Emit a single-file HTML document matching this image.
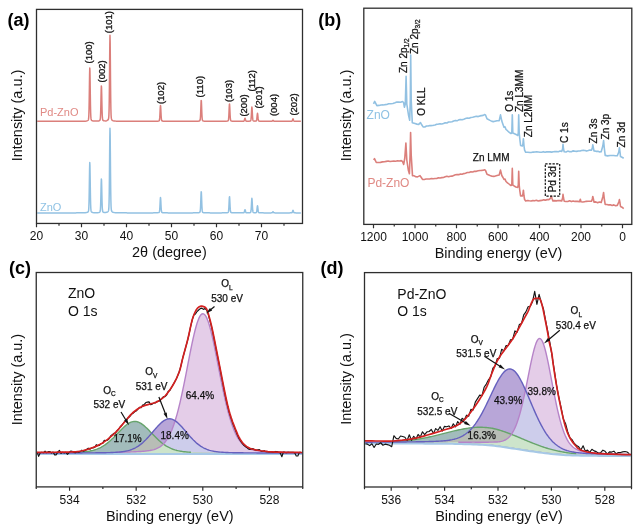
<!DOCTYPE html><html><head><meta charset="utf-8"><title>Figure</title><style>html,body{margin:0;padding:0;background:#fff;}body{width:640px;height:528px;overflow:hidden;}svg{display:block;}</style></head><body><svg width="640" height="528" viewBox="0 0 640 528" font-family='"Liberation Sans", Arial, sans-serif'><rect width="640" height="528" fill="#fff"/><path d="M37.2 121.3 L38.4 121.3 L39.6 121.3 L40.8 121.3 L42 121.3 L43.2 121.3 L44.4 121.3 L45.6 121.3 L46.8 121.3 L48 121.3 L49.2 121.3 L50.4 121.3 L51.6 121.3 L52.8 121.29 L54 121.29 L55.2 121.29 L56.4 121.29 L57.6 121.29 L58.8 121.29 L60 121.29 L61.2 121.29 L62.4 121.29 L63.6 121.29 L64.8 121.29 L66 121.29 L67.2 121.29 L68.4 121.29 L69.6 121.29 L70.8 121.28 L72 121.28 L73.2 121.28 L74.4 121.28 L75.6 121.28 L76.8 121.27 L78 121.27 L79.2 121.26 L80.4 121.25 L81.6 121.24 L82.8 121.22 L84 121.19 L85.2 121.13 L86.4 121 L87.6 120.62 L87.78 120.5 L87.96 120.35 L88.14 120.14 L88.32 119.81 L88.5 119.18 L88.68 117.81 L88.86 114.86 L89.04 109.14 L89.22 99.78 L89.4 87.37 L89.58 74.98 L89.76 68.03 L89.94 70.86 L90.12 81.57 L90.3 94.52 L90.48 105.44 L90.66 112.72 L90.84 116.75 L91.02 118.69 L91.2 119.57 L91.38 120 L91.56 120.25 L91.74 120.43 L91.92 120.55 L92.1 120.65 L92.28 120.73 L92.46 120.8 L92.64 120.85 L92.82 120.89 L94.02 121.05 L95.22 121.1 L96.42 121.11 L97.62 121.06 L98.82 120.89 L99 120.84 L99.18 120.78 L99.36 120.71 L99.54 120.61 L99.72 120.48 L99.9 120.27 L100.08 119.88 L100.26 119.04 L100.44 117.23 L100.62 113.65 L100.8 107.68 L100.98 99.56 L101.16 91.13 L101.34 85.9 L101.52 87.03 L101.7 93.77 L101.88 102.42 L102.06 109.93 L102.24 115.07 L102.42 117.96 L102.6 119.37 L102.78 120 L102.96 120.31 L103.14 120.48 L103.32 120.59 L103.5 120.68 L103.68 120.74 L103.86 120.79 L104.04 120.82 L104.22 120.85 L104.4 120.87 L105.6 120.89 L106.8 120.7 L108 119.97 L108.18 119.73 L108.36 119.38 L108.54 118.81 L108.72 117.72 L108.9 115.32 L109.08 110.18 L109.26 100.38 L109.44 84.68 L109.62 64.41 L109.8 45 L109.98 35.37 L110.16 41.68 L110.34 59.75 L110.52 80.46 L110.7 97.42 L110.88 108.48 L111.06 114.49 L111.24 117.35 L111.42 118.66 L111.6 119.3 L111.78 119.69 L111.96 119.96 L112.14 120.16 L112.32 120.32 L112.5 120.45 L112.68 120.55 L112.86 120.64 L113.04 120.71 L114.24 120.99 L115.44 121.1 L116.64 121.16 L117.84 121.2 L119.04 121.22 L120.24 121.24 L121.44 121.25 L122.64 121.26 L123.84 121.26 L125.04 121.27 L126.24 121.27 L127.44 121.28 L128.64 121.28 L129.84 121.28 L131.04 121.28 L132.24 121.28 L133.44 121.28 L134.64 121.29 L135.84 121.29 L137.04 121.29 L138.24 121.29 L139.44 121.29 L140.64 121.29 L141.84 121.29 L143.04 121.29 L144.24 121.29 L145.44 121.29 L146.64 121.29 L147.84 121.29 L149.04 121.29 L150.24 121.28 L151.44 121.28 L152.64 121.28 L153.84 121.27 L155.04 121.26 L156.24 121.24 L157.44 121.19 L158.64 121.02 L158.82 120.96 L159 120.87 L159.18 120.7 L159.36 120.32 L159.54 119.51 L159.72 117.91 L159.9 115.23 L160.08 111.59 L160.26 107.82 L160.44 105.47 L160.62 105.98 L160.8 109 L160.98 112.88 L161.16 116.25 L161.34 118.55 L161.52 119.85 L161.7 120.48 L161.88 120.77 L162.06 120.91 L162.24 120.99 L162.42 121.04 L162.6 121.08 L162.78 121.11 L162.96 121.14 L163.14 121.16 L163.32 121.17 L163.5 121.19 L164.7 121.24 L165.9 121.26 L167.1 121.27 L168.3 121.28 L169.5 121.28 L170.7 121.29 L171.9 121.29 L173.1 121.29 L174.3 121.29 L175.5 121.29 L176.7 121.29 L177.9 121.29 L179.1 121.29 L180.3 121.29 L181.5 121.29 L182.7 121.29 L183.9 121.29 L185.1 121.29 L186.3 121.29 L187.5 121.29 L188.7 121.29 L189.9 121.29 L191.1 121.28 L192.3 121.28 L193.5 121.27 L194.7 121.27 L195.9 121.25 L197.1 121.22 L198.3 121.15 L198.48 121.13 L198.66 121.11 L198.84 121.08 L199.02 121.04 L199.2 121 L199.38 120.94 L199.56 120.86 L199.74 120.74 L199.92 120.52 L200.1 120.05 L200.28 119.01 L200.46 116.96 L200.64 113.5 L200.82 108.73 L201 103.69 L201.18 100.41 L201.36 100.87 L201.54 104.74 L201.72 109.86 L201.9 114.4 L202.08 117.53 L202.26 119.31 L202.44 120.19 L202.62 120.59 L202.8 120.78 L202.98 120.88 L203.16 120.96 L203.34 121.01 L203.52 121.05 L203.7 121.08 L203.88 121.11 L204.06 121.13 L204.24 121.15 L204.42 121.17 L205.62 121.23 L206.82 121.25 L208.02 121.27 L209.22 121.27 L210.42 121.28 L211.62 121.28 L212.82 121.28 L214.02 121.28 L215.22 121.29 L216.42 121.29 L217.62 121.28 L218.82 121.28 L220.02 121.28 L221.22 121.28 L222.42 121.27 L223.62 121.26 L224.82 121.25 L226.02 121.21 L227.22 121.09 L227.4 121.06 L227.58 121.02 L227.76 120.96 L227.94 120.87 L228.12 120.72 L228.3 120.4 L228.48 119.71 L228.66 118.29 L228.84 115.78 L229.02 112.09 L229.2 107.85 L229.38 104.55 L229.56 103.99 L229.74 106.55 L229.92 110.68 L230.1 114.66 L230.28 117.59 L230.46 119.34 L230.64 120.23 L230.82 120.64 L231 120.83 L231.18 120.93 L231.36 121 L231.54 121.05 L231.72 121.08 L231.9 121.11 L232.08 121.14 L232.26 121.15 L232.44 121.17 L232.62 121.18 L233.82 121.23 L235.02 121.26 L236.22 121.27 L237.42 121.27 L238.62 121.27 L239.82 121.27 L241.02 121.27 L242.22 121.26 L242.4 121.25 L242.58 121.25 L242.76 121.24 L242.94 121.24 L243.12 121.23 L243.3 121.22 L243.48 121.2 L243.66 121.17 L243.84 121.11 L244.02 120.96 L244.2 120.68 L244.38 120.2 L244.56 119.54 L244.74 118.82 L244.92 118.33 L245.1 118.36 L245.28 118.89 L245.46 119.61 L245.64 120.26 L245.82 120.71 L246 120.97 L246.18 121.1 L246.36 121.16 L246.54 121.19 L246.72 121.2 L246.9 121.21 L247.08 121.21 L247.26 121.21 L247.44 121.22 L247.62 121.22 L247.8 121.21 L247.98 121.21 L248.16 121.21 L249.36 121.15 L249.54 121.13 L249.72 121.1 L249.9 121.07 L250.08 121.03 L250.26 120.97 L250.44 120.88 L250.62 120.7 L250.8 120.3 L250.98 119.45 L251.16 117.83 L251.34 115.24 L251.52 111.89 L251.7 108.69 L251.88 107.09 L252.06 108.14 L252.24 111.12 L252.42 114.54 L252.6 117.34 L252.78 119.16 L252.96 120.15 L253.14 120.62 L253.32 120.83 L253.5 120.94 L253.68 121 L253.86 121.04 L254.04 121.07 L254.22 121.09 L254.4 121.11 L254.58 121.12 L254.76 121.13 L254.94 121.13 L255.12 121.13 L255.3 121.12 L255.48 121.11 L255.66 121.1 L255.84 121.07 L256.02 121.03 L256.2 120.94 L256.38 120.73 L256.56 120.3 L256.74 119.44 L256.92 118.05 L257.1 116.19 L257.28 114.34 L257.46 113.31 L257.64 113.73 L257.82 115.34 L258 117.27 L258.18 118.91 L258.36 120 L258.54 120.6 L258.72 120.89 L258.9 121.03 L259.08 121.09 L259.26 121.13 L259.44 121.16 L259.62 121.18 L259.8 121.19 L259.98 121.2 L260.16 121.22 L260.34 121.22 L260.52 121.23 L261.72 121.26 L262.92 121.27 L264.12 121.28 L265.32 121.28 L266.52 121.29 L267.72 121.29 L268.92 121.29 L270.12 121.28 L270.3 121.28 L270.48 121.28 L270.66 121.28 L270.84 121.28 L271.02 121.28 L271.2 121.28 L271.38 121.27 L271.56 121.26 L271.74 121.25 L271.92 121.22 L272.1 121.16 L272.28 121.03 L272.46 120.84 L272.64 120.61 L272.82 120.39 L273 120.29 L273.18 120.39 L273.36 120.61 L273.54 120.84 L273.72 121.03 L273.9 121.16 L274.08 121.22 L274.26 121.25 L274.44 121.27 L274.62 121.27 L274.8 121.28 L274.98 121.28 L275.16 121.28 L275.34 121.28 L275.52 121.29 L275.7 121.29 L275.88 121.29 L276.06 121.29 L277.26 121.29 L278.46 121.29 L279.66 121.29 L280.86 121.29 L282.06 121.3 L283.26 121.3 L284.46 121.29 L285.66 121.29 L286.86 121.29 L288.06 121.29 L289.26 121.29 L290.46 121.28 L290.64 121.27 L290.82 121.27 L291 121.26 L291.18 121.26 L291.36 121.25 L291.54 121.23 L291.72 121.2 L291.9 121.13 L292.08 120.99 L292.26 120.72 L292.44 120.28 L292.62 119.71 L292.8 119.17 L292.98 118.9 L293.16 119.08 L293.34 119.58 L293.52 120.16 L293.7 120.63 L293.88 120.94 L294.06 121.11 L294.24 121.19 L294.42 121.23 L294.6 121.24 L294.78 121.25 L294.96 121.26 L295.14 121.27 L295.32 121.27 L295.5 121.28 L295.68 121.28 L295.86 121.28 L296.04 121.28 L297.24 121.29 L298.44 121.29 L299.64 121.3 L300.84 121.3" fill="none" stroke="#DB7F7B" stroke-width="1.5" stroke-linejoin="round"/><path d="M37.2 212.9 L38.4 212.9 L39.6 212.9 L40.8 212.9 L42 212.9 L43.2 212.9 L44.4 212.9 L45.6 212.9 L46.8 212.9 L48 212.9 L49.2 212.9 L50.4 212.9 L51.6 212.9 L52.8 212.89 L54 212.89 L55.2 212.89 L56.4 212.89 L57.6 212.89 L58.8 212.89 L60 212.89 L61.2 212.89 L62.4 212.89 L63.6 212.89 L64.8 212.89 L66 212.89 L67.2 212.89 L68.4 212.89 L69.6 212.89 L70.8 212.89 L72 212.88 L73.2 212.88 L74.4 212.88 L75.6 212.88 L76.8 212.87 L78 212.87 L79.2 212.86 L80.4 212.85 L81.6 212.84 L82.8 212.82 L84 212.79 L85.2 212.74 L86.4 212.61 L87.6 212.26 L87.78 212.15 L87.96 212.01 L88.14 211.81 L88.32 211.5 L88.5 210.9 L88.68 209.61 L88.86 206.82 L89.04 201.42 L89.22 192.59 L89.4 180.87 L89.58 169.18 L89.76 162.62 L89.94 165.29 L90.12 175.4 L90.3 187.62 L90.48 197.93 L90.66 204.8 L90.84 208.61 L91.02 210.44 L91.2 211.27 L91.38 211.68 L91.56 211.91 L91.74 212.07 L91.92 212.19 L92.1 212.29 L92.28 212.36 L92.46 212.42 L92.64 212.47 L92.82 212.52 L94.02 212.66 L95.22 212.71 L96.42 212.71 L97.62 212.67 L98.82 212.51 L99 212.46 L99.18 212.41 L99.36 212.33 L99.54 212.24 L99.72 212.11 L99.9 211.91 L100.08 211.54 L100.26 210.74 L100.44 209 L100.62 205.57 L100.8 199.85 L100.98 192.07 L101.16 183.99 L101.34 178.98 L101.52 180.07 L101.7 186.53 L101.88 194.81 L102.06 202.01 L102.24 206.93 L102.42 209.7 L102.6 211.05 L102.78 211.66 L102.96 211.95 L103.14 212.11 L103.32 212.22 L103.5 212.3 L103.68 212.36 L103.86 212.4 L104.04 212.44 L104.22 212.47 L104.4 212.49 L105.6 212.5 L106.8 212.31 L108 211.59 L108.18 211.35 L108.36 211.01 L108.54 210.45 L108.72 209.37 L108.9 207 L109.08 201.93 L109.26 192.28 L109.44 176.79 L109.62 156.8 L109.8 137.66 L109.98 128.17 L110.16 134.39 L110.34 152.21 L110.52 172.63 L110.7 189.36 L110.88 200.26 L111.06 206.19 L111.24 209.01 L111.42 210.3 L111.6 210.93 L111.78 211.31 L111.96 211.58 L112.14 211.78 L112.32 211.93 L112.5 212.06 L112.68 212.16 L112.86 212.25 L113.04 212.32 L114.24 212.59 L115.44 212.71 L116.64 212.77 L117.84 212.8 L119.04 212.82 L120.24 212.84 L121.44 212.85 L122.64 212.86 L123.84 212.86 L125.04 212.87 L126.24 212.87 L127.44 212.88 L128.64 212.88 L129.84 212.88 L131.04 212.88 L132.24 212.88 L133.44 212.88 L134.64 212.89 L135.84 212.89 L137.04 212.89 L138.24 212.89 L139.44 212.89 L140.64 212.89 L141.84 212.89 L143.04 212.89 L144.24 212.89 L145.44 212.89 L146.64 212.89 L147.84 212.89 L149.04 212.89 L150.24 212.88 L151.44 212.88 L152.64 212.88 L153.84 212.87 L155.04 212.86 L156.24 212.84 L157.44 212.79 L158.64 212.63 L158.82 212.57 L159 212.48 L159.18 212.31 L159.36 211.95 L159.54 211.15 L159.72 209.59 L159.9 206.98 L160.08 203.43 L160.26 199.75 L160.44 197.47 L160.62 197.97 L160.8 200.91 L160.98 204.69 L161.16 207.98 L161.34 210.22 L161.52 211.49 L161.7 212.1 L161.88 212.38 L162.06 212.52 L162.24 212.6 L162.42 212.65 L162.6 212.69 L162.78 212.72 L162.96 212.74 L163.14 212.76 L163.32 212.78 L163.5 212.79 L164.7 212.84 L165.9 212.86 L167.1 212.87 L168.3 212.88 L169.5 212.88 L170.7 212.89 L171.9 212.89 L173.1 212.89 L174.3 212.89 L175.5 212.89 L176.7 212.89 L177.9 212.89 L179.1 212.89 L180.3 212.89 L181.5 212.89 L182.7 212.89 L183.9 212.89 L185.1 212.89 L186.3 212.89 L187.5 212.89 L188.7 212.89 L189.9 212.89 L191.1 212.88 L192.3 212.88 L193.5 212.87 L194.7 212.87 L195.9 212.85 L197.1 212.82 L198.3 212.75 L198.48 212.73 L198.66 212.7 L198.84 212.68 L199.02 212.64 L199.2 212.6 L199.38 212.54 L199.56 212.46 L199.74 212.34 L199.92 212.11 L200.1 211.64 L200.28 210.59 L200.46 208.52 L200.64 205.03 L200.82 200.21 L201 195.12 L201.18 191.82 L201.36 192.27 L201.54 196.18 L201.72 201.36 L201.9 205.93 L202.08 209.09 L202.26 210.89 L202.44 211.78 L202.62 212.18 L202.8 212.37 L202.98 212.48 L203.16 212.55 L203.34 212.61 L203.52 212.65 L203.7 212.68 L203.88 212.71 L204.06 212.73 L204.24 212.75 L204.42 212.77 L205.62 212.83 L206.82 212.85 L208.02 212.87 L209.22 212.87 L210.42 212.88 L211.62 212.88 L212.82 212.88 L214.02 212.89 L215.22 212.89 L216.42 212.89 L217.62 212.89 L218.82 212.88 L220.02 212.88 L221.22 212.88 L222.42 212.87 L223.62 212.86 L224.82 212.85 L226.02 212.81 L227.22 212.71 L227.4 212.67 L227.58 212.63 L227.76 212.58 L227.94 212.5 L228.12 212.36 L228.3 212.06 L228.48 211.41 L228.66 210.08 L228.84 207.72 L229.02 204.27 L229.2 200.3 L229.38 197.2 L229.56 196.67 L229.74 199.08 L229.92 202.95 L230.1 206.68 L230.28 209.42 L230.46 211.06 L230.64 211.9 L230.82 212.28 L231 212.46 L231.18 212.56 L231.36 212.62 L231.54 212.66 L231.72 212.7 L231.9 212.72 L232.08 212.75 L232.26 212.76 L232.44 212.78 L232.62 212.79 L233.82 212.84 L235.02 212.86 L236.22 212.87 L237.42 212.87 L238.62 212.87 L239.82 212.87 L241.02 212.87 L242.22 212.85 L242.4 212.85 L242.58 212.85 L242.76 212.84 L242.94 212.83 L243.12 212.82 L243.3 212.81 L243.48 212.79 L243.66 212.76 L243.84 212.69 L244.02 212.53 L244.2 212.22 L244.38 211.7 L244.56 210.96 L244.74 210.17 L244.92 209.64 L245.1 209.67 L245.28 210.25 L245.46 211.05 L245.64 211.76 L245.82 212.26 L246 212.55 L246.18 212.69 L246.36 212.75 L246.54 212.78 L246.72 212.79 L246.9 212.8 L247.08 212.81 L247.26 212.81 L247.44 212.81 L247.62 212.81 L247.8 212.81 L247.98 212.81 L248.16 212.81 L249.36 212.74 L249.54 212.72 L249.72 212.7 L249.9 212.67 L250.08 212.62 L250.26 212.56 L250.44 212.47 L250.62 212.28 L250.8 211.87 L250.98 211 L251.16 209.34 L251.34 206.67 L251.52 203.23 L251.7 199.93 L251.88 198.3 L252.06 199.37 L252.24 202.43 L252.42 205.95 L252.6 208.83 L252.78 210.7 L252.96 211.72 L253.14 212.21 L253.32 212.43 L253.5 212.53 L253.68 212.6 L253.86 212.64 L254.04 212.67 L254.22 212.69 L254.4 212.71 L254.58 212.72 L254.76 212.73 L254.94 212.73 L255.12 212.73 L255.3 212.73 L255.48 212.72 L255.66 212.71 L255.84 212.69 L256.02 212.65 L256.2 212.57 L256.38 212.39 L256.56 212 L256.74 211.25 L256.92 210.01 L257.1 208.36 L257.28 206.72 L257.46 205.8 L257.64 206.18 L257.82 207.6 L258 209.32 L258.18 210.77 L258.36 211.74 L258.54 212.28 L258.72 212.54 L258.9 212.65 L259.08 212.71 L259.26 212.75 L259.44 212.77 L259.62 212.79 L259.8 212.8 L259.98 212.81 L260.16 212.82 L260.34 212.83 L260.52 212.84 L261.72 212.86 L262.92 212.87 L264.12 212.88 L265.32 212.88 L266.52 212.89 L267.72 212.89 L268.92 212.89 L270.12 212.88 L270.3 212.88 L270.48 212.88 L270.66 212.88 L270.84 212.88 L271.02 212.88 L271.2 212.87 L271.38 212.87 L271.56 212.86 L271.74 212.84 L271.92 212.81 L272.1 212.73 L272.28 212.58 L272.46 212.35 L272.64 212.07 L272.82 211.81 L273 211.69 L273.18 211.81 L273.36 212.07 L273.54 212.35 L273.72 212.58 L273.9 212.73 L274.08 212.81 L274.26 212.84 L274.44 212.86 L274.62 212.87 L274.8 212.87 L274.98 212.88 L275.16 212.88 L275.34 212.88 L275.52 212.88 L275.7 212.89 L275.88 212.89 L276.06 212.89 L277.26 212.89 L278.46 212.89 L279.66 212.89 L280.86 212.89 L282.06 212.89 L283.26 212.89 L284.46 212.89 L285.66 212.89 L286.86 212.89 L288.06 212.89 L289.26 212.89 L290.46 212.87 L290.64 212.87 L290.82 212.87 L291 212.86 L291.18 212.85 L291.36 212.84 L291.54 212.82 L291.72 212.79 L291.9 212.72 L292.08 212.56 L292.26 212.27 L292.44 211.79 L292.62 211.18 L292.8 210.59 L292.98 210.3 L293.16 210.49 L293.34 211.04 L293.52 211.66 L293.7 212.18 L293.88 212.51 L294.06 212.69 L294.24 212.78 L294.42 212.82 L294.6 212.84 L294.78 212.85 L294.96 212.86 L295.14 212.86 L295.32 212.87 L295.5 212.87 L295.68 212.88 L295.86 212.88 L296.04 212.88 L297.24 212.89 L298.44 212.89 L299.64 212.89 L300.84 212.9" fill="none" stroke="#92C1E2" stroke-width="1.5" stroke-linejoin="round"/><rect x="36.5" y="9.4" width="266" height="214.05" fill="none" stroke="#2e2e2e" stroke-width="1.3"/><path d="M36.5 223.45 V227.25 M81.5 223.45 V227.25 M126.5 223.45 V227.25 M171.5 223.45 V227.25 M216.5 223.45 V227.25 M261.5 223.45 V227.25 M59 223.45 V225.65 M104 223.45 V225.65 M149 223.45 V225.65 M194 223.45 V225.65 M239 223.45 V225.65 M284 223.45 V225.65" stroke="#2e2e2e" stroke-width="1.2" fill="none"/><text x="36.5" y="239.8" font-size="12" text-anchor="middle" font-weight="normal" fill="#111">20</text><text x="81.5" y="239.8" font-size="12" text-anchor="middle" font-weight="normal" fill="#111">30</text><text x="126.5" y="239.8" font-size="12" text-anchor="middle" font-weight="normal" fill="#111">40</text><text x="171.5" y="239.8" font-size="12" text-anchor="middle" font-weight="normal" fill="#111">50</text><text x="216.5" y="239.8" font-size="12" text-anchor="middle" font-weight="normal" fill="#111">60</text><text x="261.5" y="239.8" font-size="12" text-anchor="middle" font-weight="normal" fill="#111">70</text><text x="169.4" y="256.6" font-size="14.45" text-anchor="middle" font-weight="normal" fill="#111">2&#952; (degree)</text><text transform="translate(21.9,115.5) rotate(-90)" font-size="14.45" text-anchor="middle" font-weight="normal" fill="#111">Intensity (a.u.)</text><text x="7.5" y="26" font-size="18" text-anchor="start" font-weight="bold" fill="#000">(a)</text><text x="40" y="115.7" font-size="11" text-anchor="start" font-weight="normal" fill="#E08A85">Pd-ZnO</text><text x="40" y="210.6" font-size="11" text-anchor="start" font-weight="normal" fill="#8FC2E4">ZnO</text><text transform="translate(92.3,63.5) rotate(-90)" font-size="9.5" text-anchor="start" font-weight="normal" fill="#111" stroke="#111" stroke-width="0.3">(100)</text><text transform="translate(104.5,82.5) rotate(-90)" font-size="9.5" text-anchor="start" font-weight="normal" fill="#111" stroke="#111" stroke-width="0.3">(002)</text><text transform="translate(111.9,33.2) rotate(-90)" font-size="9.5" text-anchor="start" font-weight="normal" fill="#111" stroke="#111" stroke-width="0.3">(101)</text><text transform="translate(163.6,104.1) rotate(-90)" font-size="9.5" text-anchor="start" font-weight="normal" fill="#111" stroke="#111" stroke-width="0.3">(102)</text><text transform="translate(203.4,97.4) rotate(-90)" font-size="9.5" text-anchor="start" font-weight="normal" fill="#111" stroke="#111" stroke-width="0.3">(110)</text><text transform="translate(231.6,102.1) rotate(-90)" font-size="9.5" text-anchor="start" font-weight="normal" fill="#111" stroke="#111" stroke-width="0.3">(103)</text><text transform="translate(247.1,116.6) rotate(-90)" font-size="9.5" text-anchor="start" font-weight="normal" fill="#111" stroke="#111" stroke-width="0.3">(200)</text><text transform="translate(255.1,91.5) rotate(-90)" font-size="9.5" text-anchor="start" font-weight="normal" fill="#111" stroke="#111" stroke-width="0.3">(112)</text><text transform="translate(262.1,108.6) rotate(-90)" font-size="9.5" text-anchor="start" font-weight="normal" fill="#111" stroke="#111" stroke-width="0.3">(201)</text><text transform="translate(276.6,116.1) rotate(-90)" font-size="9.5" text-anchor="start" font-weight="normal" fill="#111" stroke="#111" stroke-width="0.3">(004)</text><text transform="translate(296.6,115.6) rotate(-90)" font-size="9.5" text-anchor="start" font-weight="normal" fill="#111" stroke="#111" stroke-width="0.3">(202)</text><path d="M373.5 103.8 L374.7 101.4 L376.9 105.6 L378.95 105.41 L381 105 L382.93 104.92 L384.85 104.67 L386.77 104.5 L388.7 103.8 L390.8 103.68 L392.9 103.51 L395 102.8 L396.88 102.05 L398.75 102.12 L400.62 102.22 L402.5 101.5 L403.6 102.5 L404.4 107.2 L405.3 104 L406.1 76.2 L406.8 104 L408.5 115 L409.7 120.2 L410.3 100 L410.7 55.1 L411.2 100 L412.3 122.8 L415 123.6 L416.85 124.13 L418.7 124.4 L420.5 122.6 L421.5 124.5 L423.1 126.9 L424.8 126.99 L426.5 126.01 L428.2 126.06 L429.9 125.59 L431.6 125.58 L433.3 125.34 L435 125 L436.7 124.23 L438.4 124.08 L440.1 123.8 L441.8 124.04 L443.5 123.57 L445.2 122.69 L446.9 122.93 L448.6 122.01 L450.3 122 L451.99 121.73 L453.68 120.91 L455.37 120.42 L457.06 120.82 L458.74 119.85 L460.43 119.48 L462.12 119.79 L463.81 119.31 L465.5 118.6 L467.3 118.05 L469.1 118.3 L470.9 117.56 L472.7 117.32 L474.5 116.8 L476.33 116.23 L478.17 116.6 L480 115.9 L481.6 115.6 L483.2 115.39 L484.8 114.5 L485.6 115.2 L487 118.8 L490 120.4 L491.95 121.35 L493.9 121.6 L497 120.8 L499.2 120.6 L500.5 114.9 L501.8 121.1 L503 124.5 L504 127.3 L505 126.8 L506 129.5 L507.5 130.7 L509 132.2 L510.9 133.5 L511.8 133 L512.3 114.8 L512.8 133 L514 133.5 L516.6 134.7 L517.7 135.5 L518.3 133 L518.7 114.9 L519.2 133 L519.7 138 L520.6 145.5 L522.3 146 L522.9 144 L523.4 138.7 L524 146 L524.6 150.2 L525.7 152.3 L527.85 152.22 L530 152.5 L531.67 152.33 L533.33 152.1 L535 152.03 L536.67 151.91 L538.33 152.07 L540 152.2 L541.67 152.24 L543.33 151.65 L545 152.21 L546.67 151.85 L548.33 151.78 L550 151.9 L551.67 152.12 L553.34 151.74 L555.01 151.52 L556.69 151.6 L558.36 151.73 L560.03 151.07 L561.7 151.4 L562.6 149 L563 144.2 L563.5 149 L564.2 151.7 L566 152.04 L567.8 151.1 L569.6 151.67 L571.4 151.68 L573.2 150.85 L575 151.2 L576.66 151.38 L578.33 150.93 L579.99 151.05 L581.65 150.46 L583.31 150.42 L584.97 150.46 L586.64 151.08 L588.3 150.6 L589.9 150.08 L591.5 150.1 L592.3 148 L592.8 144.8 L593.4 148 L594 150.9 L596 151.33 L598 151.3 L599.6 151.89 L601.2 151.7 L602.8 146 L603.6 140.5 L604.3 148 L605.2 155.4 L607.6 155.85 L610 155.5 L611.83 155.43 L613.65 155.52 L615.47 155.75 L617.3 155.8 L618.8 152 L619.4 147.7 L620 152 L620.5 156.6 L622 157.2 L623.7 158.2" fill="none" stroke="#92C1E2" stroke-width="1.6" stroke-linejoin="round"/><path d="M373.7 160 L374.5 158.7 L376.3 162.5 L378.37 162.56 L380.43 162.39 L382.5 161.9 L384.4 161.75 L386.3 161.41 L388.2 161.03 L390.1 161.49 L392 161.2 L393.84 161.05 L395.68 161.19 L397.52 160.73 L399.36 160.96 L401.2 160.6 L402.5 161.5 L403.7 164.4 L404.8 158 L405.9 143.1 L406.8 160 L408.3 170 L409.4 173.8 L410.1 155 L410.6 132.5 L411.2 155 L412.5 175.6 L414.17 175.83 L415.83 176.74 L417.5 176.9 L420 175.6 L421.3 177.5 L422.5 179.4 L424.29 179.48 L426.07 179.07 L427.86 179.05 L429.64 179.05 L431.43 178.48 L433.21 178.68 L435 178.5 L436.7 178.52 L438.4 177.78 L440.1 178.01 L441.8 177.64 L443.5 177.53 L445.2 176.82 L446.9 176.34 L448.6 176.73 L450.3 176.2 L451.99 176.14 L453.68 175.48 L455.37 174.83 L457.06 174.59 L458.74 174.65 L460.43 174.01 L462.12 174.27 L463.81 173.61 L465.5 173.2 L467.3 172.53 L469.1 172.54 L470.9 171.87 L472.7 171.99 L474.5 171.2 L476.33 171.34 L478.17 170.75 L480 170.5 L481.6 170.4 L483.2 170.21 L484.8 169.8 L485.6 170.6 L487 174.3 L490 175.5 L491.95 176.22 L493.9 176.4 L497 175.6 L499.2 175 L500.5 170.1 L501.8 175.5 L503 177.5 L504 179.4 L505 179 L506 181.5 L507.5 182.8 L509 184 L510.9 185.5 L511.8 185 L512.3 168.4 L512.8 185 L514 185.8 L515.85 187.03 L517.7 187.4 L518.3 185 L518.7 171.3 L519.2 185 L519.7 190 L520.6 195.9 L522.3 195.9 L522.9 194 L523.4 190.2 L524 196 L524.6 199.5 L525.7 201 L527.49 200.53 L529.28 200.78 L531.06 200.94 L532.85 200.62 L534.64 200.83 L536.42 200.33 L538.21 200.99 L540 200.6 L541.78 200.42 L543.56 199.86 L545.34 200.15 L547.12 199.63 L548.9 199.6 L550.3 198.5 L551.3 196.3 L552.2 199 L552.9 200.9 L554.66 200.63 L556.42 200.89 L558.18 200.57 L559.94 200.64 L561.7 200.9 L562.6 198 L563 194.4 L563.5 198 L564.2 201.2 L566 201.56 L567.8 201.45 L569.6 200.86 L571.4 201.58 L573.2 200.93 L575 201.4 L577.3 201.35 L579.6 201.6 L580.3 199.2 L581 201.7 L582.75 202 L584.5 201.67 L586.25 201.33 L588 201.32 L589.75 201.27 L591.5 201.3 L592.3 199 L592.8 196.5 L593.4 199 L594 202.1 L595.8 201.86 L597.6 202.75 L599.4 202 L601.2 202.5 L602.8 197 L603.6 192.5 L604.3 199 L605.2 204.4 L606.93 204.47 L608.66 204.91 L610.39 204.74 L612.11 205.4 L613.84 204.89 L615.57 205.69 L617.3 205.4 L618.8 202 L619.4 199.6 L620 203 L620.5 206.5 L622 207.2 L623.7 208.6" fill="none" stroke="#DB7F7B" stroke-width="1.6" stroke-linejoin="round"/><rect x="363.8" y="8.2" width="268" height="216.2" fill="none" stroke="#2e2e2e" stroke-width="1.3"/><path d="M373.5 224.4 V228.2 M415 224.4 V228.2 M456.5 224.4 V228.2 M498 224.4 V228.2 M539.5 224.4 V228.2 M581 224.4 V228.2 M622.5 224.4 V228.2 M394.25 224.4 V226.6 M435.75 224.4 V226.6 M477.25 224.4 V226.6 M518.75 224.4 V226.6 M560.25 224.4 V226.6 M601.75 224.4 V226.6" stroke="#2e2e2e" stroke-width="1.2" fill="none"/><text x="373.5" y="240.8" font-size="12" text-anchor="middle" font-weight="normal" fill="#111">1200</text><text x="415" y="240.8" font-size="12" text-anchor="middle" font-weight="normal" fill="#111">1000</text><text x="456.5" y="240.8" font-size="12" text-anchor="middle" font-weight="normal" fill="#111">800</text><text x="498" y="240.8" font-size="12" text-anchor="middle" font-weight="normal" fill="#111">600</text><text x="539.5" y="240.8" font-size="12" text-anchor="middle" font-weight="normal" fill="#111">400</text><text x="581" y="240.8" font-size="12" text-anchor="middle" font-weight="normal" fill="#111">200</text><text x="622.5" y="240.8" font-size="12" text-anchor="middle" font-weight="normal" fill="#111">0</text><text x="498.5" y="257.6" font-size="14.45" text-anchor="middle" font-weight="normal" fill="#111">Binding energy (eV)</text><text transform="translate(351,115.5) rotate(-90)" font-size="14.45" text-anchor="middle" font-weight="normal" fill="#111">Intensity (a.u.)</text><text x="318.2" y="26.2" font-size="18" text-anchor="start" font-weight="bold" fill="#000">(b)</text><text x="366.6" y="119.4" font-size="12" text-anchor="start" font-weight="normal" fill="#8FC2E4">ZnO</text><text x="367.4" y="187.2" font-size="12" text-anchor="start" font-weight="normal" fill="#E08A85">Pd-ZnO</text><text transform="translate(407,73) rotate(-90)" font-size="10" text-anchor="start" font-weight="normal" fill="#111" stroke="#111" stroke-width="0.25">Zn 2p<tspan font-size="6.5" dy="2">1/2</tspan></text><text transform="translate(417.6,54) rotate(-90)" font-size="10" text-anchor="start" font-weight="normal" fill="#111" stroke="#111" stroke-width="0.25">Zn 2p<tspan font-size="6.5" dy="2">3/2</tspan></text><text transform="translate(424.6,115.8) rotate(-90)" font-size="10" text-anchor="start" font-weight="normal" fill="#111" stroke="#111" stroke-width="0.25">O KLL</text><text transform="translate(512.8,111.8) rotate(-90)" font-size="10" text-anchor="start" font-weight="normal" fill="#111" stroke="#111" stroke-width="0.25">O 1s</text><text transform="translate(523,112) rotate(-90)" font-size="10" text-anchor="start" font-weight="normal" fill="#111" stroke="#111" stroke-width="0.25">Zn L3MM</text><text transform="translate(532,137.2) rotate(-90)" font-size="10" text-anchor="start" font-weight="normal" fill="#111" stroke="#111" stroke-width="0.25">Zn L2MM</text><text x="472.8" y="161.2" font-size="10" text-anchor="start" font-weight="normal" fill="#111" stroke="#111" stroke-width="0.25">Zn LMM</text><text transform="translate(567.6,142.9) rotate(-90)" font-size="10" text-anchor="start" font-weight="normal" fill="#111" stroke="#111" stroke-width="0.25">C 1s</text><text transform="translate(596.6,143.4) rotate(-90)" font-size="10" text-anchor="start" font-weight="normal" fill="#111" stroke="#111" stroke-width="0.25">Zn 3s</text><text transform="translate(608.6,139.4) rotate(-90)" font-size="10" text-anchor="start" font-weight="normal" fill="#111" stroke="#111" stroke-width="0.25">Zn 3p</text><text transform="translate(625,147.4) rotate(-90)" font-size="10" text-anchor="start" font-weight="normal" fill="#111" stroke="#111" stroke-width="0.25">Zn 3d</text><text transform="translate(555.7,192.3) rotate(-90)" font-size="10" text-anchor="start" font-weight="normal" fill="#111" stroke="#111" stroke-width="0.25">Pd 3d</text><rect x="545.3" y="163.9" width="14.4" height="32.2" fill="none" stroke="#111" stroke-width="1.2" stroke-dasharray="2.3 1.3"/><defs><path id="cG" d="M36.95 452.93 L37.95 452.92 L38.95 452.92 L39.95 452.91 L40.95 452.91 L41.95 452.9 L42.95 452.89 L43.95 452.89 L44.95 452.88 L45.95 452.87 L46.95 452.87 L47.95 452.86 L48.95 452.85 L49.95 452.84 L50.95 452.84 L51.95 452.83 L52.95 452.82 L53.95 452.81 L54.95 452.8 L55.95 452.79 L56.95 452.78 L57.95 452.77 L58.95 452.76 L59.95 452.75 L60.95 452.73 L61.95 452.72 L62.95 452.71 L63.95 452.69 L64.95 452.68 L65.95 452.66 L66.95 452.64 L67.95 452.62 L68.95 452.6 L69.95 452.58 L70.95 452.56 L71.95 452.53 L72.95 452.5 L73.95 452.47 L74.95 452.43 L75.95 452.39 L76.95 452.35 L77.95 452.3 L78.95 452.25 L79.95 452.19 L80.95 452.12 L81.95 452.05 L82.95 451.96 L83.95 451.87 L84.95 451.76 L85.95 451.64 L86.95 451.51 L87.95 451.36 L88.95 451.2 L89.95 451.02 L90.95 450.81 L91.95 450.59 L92.95 450.34 L93.95 450.06 L94.95 449.76 L95.95 449.43 L96.95 449.07 L97.95 448.67 L98.95 448.24 L99.95 447.78 L100.95 447.27 L101.95 446.73 L102.95 446.15 L103.95 445.52 L104.95 444.86 L105.95 444.15 L106.95 443.41 L107.95 442.62 L108.95 441.8 L109.95 440.93 L110.95 440.04 L111.95 439.1 L112.95 438.14 L113.95 437.16 L114.95 436.15 L115.95 435.12 L116.95 434.08 L117.95 433.04 L118.95 431.99 L119.95 430.95 L120.95 429.93 L121.95 428.92 L122.95 427.95 L123.95 427.01 L124.95 426.11 L125.95 425.27 L126.95 424.5 L127.95 423.79 L128.95 423.16 L129.95 422.62 L130.95 422.17 L131.95 421.82 L132.95 421.57 L133.95 421.43 L134.95 421.4 L135.95 421.48 L136.95 421.67 L137.95 421.96 L138.95 422.35 L139.95 422.84 L140.95 423.42 L141.95 424.08 L142.95 424.82 L143.95 425.62 L144.95 426.48 L145.95 427.4 L146.95 428.35 L147.95 429.34 L148.95 430.35 L149.95 431.39 L150.95 432.43 L151.95 433.48 L152.95 434.52 L153.95 435.55 L154.95 436.57 L155.95 437.57 L156.95 438.55 L157.95 439.5 L158.95 440.42 L159.95 441.3 L160.95 442.15 L161.95 442.96 L162.95 443.73 L163.95 444.46 L164.95 445.14 L165.95 445.79 L166.95 446.4 L167.95 446.96 L168.95 447.49 L169.95 447.98 L170.95 448.43 L171.95 448.84 L172.95 449.23 L173.95 449.57 L174.95 449.89 L175.95 450.18 L176.95 450.45 L177.95 450.69 L178.95 450.9 L179.95 451.1 L180.95 451.27 L181.95 451.43 L182.95 451.57 L183.95 451.69 L184.95 451.81 L185.95 451.91 L186.95 452 L187.95 452.08 L188.95 452.15 L189.95 452.21 L190.95 452.27 L191.95 452.32 L192.95 452.37 L193.95 452.41 L194.95 452.45 L195.95 452.48 L196.95 452.51 L197.95 452.54 L198.95 452.57 L199.95 452.59 L200.95 452.61 L201.95 452.63 L202.95 452.65 L203.95 452.67 L204.95 452.68 L205.95 452.7 L206.95 452.71 L207.95 452.73 L208.95 452.74 L209.95 452.75 L210.95 452.76 L211.95 452.77 L212.95 452.78 L213.95 452.79 L214.95 452.8 L215.95 452.81 L216.95 452.82 L217.95 452.83 L218.95 452.84 L219.95 452.85 L220.95 452.85 L221.95 452.86 L222.95 452.87 L223.95 452.88 L224.95 452.88 L225.95 452.89 L226.95 452.9 L227.95 452.9 L228.95 452.91 L229.95 452.91 L230.95 452.92 L231.95 452.93 L232.95 452.93 L233.95 452.94 L234.95 452.94 L235.95 452.95 L236.95 452.95 L237.95 452.95 L238.95 452.96 L239.95 452.96 L240.95 452.97 L241.95 452.97 L242.95 452.98 L243.95 452.98 L244.95 452.98 L245.95 452.99 L246.95 452.99 L247.95 452.99 L248.95 453 L249.95 453 L250.95 453.01 L251.95 453.01 L252.95 453.01 L253.95 453.01 L254.95 453.02 L255.95 453.02 L256.95 453.02 L257.95 453.03 L258.95 453.03 L259.95 453.03 L260.95 453.03 L261.95 453.04 L262.95 453.04 L263.95 453.04 L264.95 453.04 L265.95 453.05 L266.95 453.05 L267.95 453.05 L268.95 453.05 L269.95 453.05 L270.95 453.06 L271.95 453.06 L272.95 453.06 L273.95 453.06 L274.95 453.06 L275.95 453.07 L276.95 453.07 L277.95 453.07 L278.95 453.07 L279.95 453.07 L280.95 453.08 L281.95 453.08 L282.95 453.08 L283.95 453.08 L284.95 453.08 L285.95 453.08 L286.95 453.08 L287.95 453.09 L288.95 453.09 L289.95 453.09 L290.95 453.09 L291.95 453.09 L292.95 453.09 L293.95 453.09 L294.95 453.1 L295.95 453.1 L296.95 453.1 L297.95 453.1 L298.95 453.1 L299.95 453.1 L300.95 453.1 L301.95 453.1 L302.05 453.1 L300.95 453.2 L297.95 453.2 L294.95 453.2 L291.95 453.2 L288.95 453.2 L285.95 453.2 L282.95 453.2 L279.95 453.2 L276.95 453.2 L273.95 453.2 L270.95 453.2 L267.95 453.2 L264.95 453.2 L261.95 453.2 L258.95 453.2 L255.95 453.2 L252.95 453.2 L249.95 453.2 L246.95 453.2 L243.95 453.2 L240.95 453.2 L237.95 453.2 L234.95 453.2 L231.95 453.2 L228.95 453.2 L225.95 453.2 L222.95 453.2 L219.95 453.2 L216.95 453.2 L213.95 453.2 L210.95 453.2 L207.95 453.2 L204.95 453.2 L201.95 453.2 L198.95 453.2 L195.95 453.2 L192.95 453.2 L189.95 453.2 L186.95 453.2 L183.95 453.2 L180.95 453.2 L177.95 453.2 L174.95 453.2 L171.95 453.2 L168.95 453.2 L165.95 453.2 L162.95 453.2 L159.95 453.2 L156.95 453.2 L153.95 453.2 L150.95 453.2 L147.95 453.2 L144.95 453.2 L141.95 453.2 L138.95 453.2 L135.95 453.2 L132.95 453.2 L129.95 453.2 L126.95 453.2 L123.95 453.2 L120.95 453.2 L117.95 453.2 L114.95 453.2 L111.95 453.2 L108.95 453.2 L105.95 453.2 L102.95 453.2 L99.95 453.2 L96.95 453.2 L93.95 453.2 L90.95 453.2 L87.95 453.2 L84.95 453.2 L81.95 453.2 L78.95 453.2 L75.95 453.2 L72.95 453.2 L69.95 453.2 L66.95 453.2 L63.95 453.2 L60.95 453.2 L57.95 453.2 L54.95 453.2 L51.95 453.2 L48.95 453.2 L45.95 453.2 L42.95 453.2 L39.95 453.2 L36.95 453.2 Z"/><path id="cB" d="M36.95 453.08 L37.95 453.08 L38.95 453.07 L39.95 453.07 L40.95 453.07 L41.95 453.07 L42.95 453.07 L43.95 453.06 L44.95 453.06 L45.95 453.06 L46.95 453.06 L47.95 453.06 L48.95 453.05 L49.95 453.05 L50.95 453.05 L51.95 453.05 L52.95 453.04 L53.95 453.04 L54.95 453.04 L55.95 453.04 L56.95 453.03 L57.95 453.03 L58.95 453.03 L59.95 453.02 L60.95 453.02 L61.95 453.02 L62.95 453.01 L63.95 453.01 L64.95 453.01 L65.95 453 L66.95 453 L67.95 453 L68.95 452.99 L69.95 452.99 L70.95 452.98 L71.95 452.98 L72.95 452.97 L73.95 452.97 L74.95 452.97 L75.95 452.96 L76.95 452.96 L77.95 452.95 L78.95 452.94 L79.95 452.94 L80.95 452.93 L81.95 452.93 L82.95 452.92 L83.95 452.92 L84.95 452.91 L85.95 452.9 L86.95 452.9 L87.95 452.89 L88.95 452.88 L89.95 452.87 L90.95 452.87 L91.95 452.86 L92.95 452.85 L93.95 452.84 L94.95 452.83 L95.95 452.82 L96.95 452.81 L97.95 452.8 L98.95 452.79 L99.95 452.77 L100.95 452.76 L101.95 452.75 L102.95 452.73 L103.95 452.71 L104.95 452.7 L105.95 452.68 L106.95 452.65 L107.95 452.63 L108.95 452.61 L109.95 452.58 L110.95 452.54 L111.95 452.51 L112.95 452.47 L113.95 452.42 L114.95 452.37 L115.95 452.31 L116.95 452.25 L117.95 452.17 L118.95 452.09 L119.95 451.99 L120.95 451.88 L121.95 451.76 L122.95 451.62 L123.95 451.47 L124.95 451.3 L125.95 451.1 L126.95 450.88 L127.95 450.64 L128.95 450.37 L129.95 450.07 L130.95 449.73 L131.95 449.36 L132.95 448.96 L133.95 448.51 L134.95 448.03 L135.95 447.5 L136.95 446.93 L137.95 446.31 L138.95 445.64 L139.95 444.92 L140.95 444.16 L141.95 443.34 L142.95 442.48 L143.95 441.57 L144.95 440.62 L145.95 439.62 L146.95 438.58 L147.95 437.51 L148.95 436.4 L149.95 435.26 L150.95 434.11 L151.95 432.93 L152.95 431.75 L153.95 430.57 L154.95 429.39 L155.95 428.23 L156.95 427.09 L157.95 425.99 L158.95 424.93 L159.95 423.93 L160.95 422.98 L161.95 422.11 L162.95 421.33 L163.95 420.63 L164.95 420.04 L165.95 419.56 L166.95 419.19 L167.95 418.94 L168.95 418.82 L169.95 418.82 L170.95 418.94 L171.95 419.19 L172.95 419.56 L173.95 420.04 L174.95 420.63 L175.95 421.33 L176.95 422.11 L177.95 422.98 L178.95 423.93 L179.95 424.93 L180.95 425.99 L181.95 427.09 L182.95 428.23 L183.95 429.39 L184.95 430.57 L185.95 431.75 L186.95 432.93 L187.95 434.11 L188.95 435.26 L189.95 436.4 L190.95 437.51 L191.95 438.58 L192.95 439.62 L193.95 440.62 L194.95 441.57 L195.95 442.48 L196.95 443.34 L197.95 444.16 L198.95 444.92 L199.95 445.64 L200.95 446.31 L201.95 446.93 L202.95 447.5 L203.95 448.03 L204.95 448.51 L205.95 448.96 L206.95 449.36 L207.95 449.73 L208.95 450.07 L209.95 450.37 L210.95 450.64 L211.95 450.88 L212.95 451.1 L213.95 451.3 L214.95 451.47 L215.95 451.62 L216.95 451.76 L217.95 451.88 L218.95 451.99 L219.95 452.09 L220.95 452.17 L221.95 452.25 L222.95 452.31 L223.95 452.37 L224.95 452.42 L225.95 452.47 L226.95 452.51 L227.95 452.54 L228.95 452.58 L229.95 452.61 L230.95 452.63 L231.95 452.65 L232.95 452.68 L233.95 452.7 L234.95 452.71 L235.95 452.73 L236.95 452.75 L237.95 452.76 L238.95 452.77 L239.95 452.79 L240.95 452.8 L241.95 452.81 L242.95 452.82 L243.95 452.83 L244.95 452.84 L245.95 452.85 L246.95 452.86 L247.95 452.87 L248.95 452.87 L249.95 452.88 L250.95 452.89 L251.95 452.9 L252.95 452.9 L253.95 452.91 L254.95 452.92 L255.95 452.92 L256.95 452.93 L257.95 452.93 L258.95 452.94 L259.95 452.94 L260.95 452.95 L261.95 452.96 L262.95 452.96 L263.95 452.97 L264.95 452.97 L265.95 452.97 L266.95 452.98 L267.95 452.98 L268.95 452.99 L269.95 452.99 L270.95 453 L271.95 453 L272.95 453 L273.95 453.01 L274.95 453.01 L275.95 453.01 L276.95 453.02 L277.95 453.02 L278.95 453.02 L279.95 453.03 L280.95 453.03 L281.95 453.03 L282.95 453.04 L283.95 453.04 L284.95 453.04 L285.95 453.04 L286.95 453.05 L287.95 453.05 L288.95 453.05 L289.95 453.05 L290.95 453.06 L291.95 453.06 L292.95 453.06 L293.95 453.06 L294.95 453.06 L295.95 453.07 L296.95 453.07 L297.95 453.07 L298.95 453.07 L299.95 453.07 L300.95 453.08 L301.95 453.08 L302.05 453.08 L300.95 453.2 L297.95 453.2 L294.95 453.2 L291.95 453.2 L288.95 453.2 L285.95 453.2 L282.95 453.2 L279.95 453.2 L276.95 453.2 L273.95 453.2 L270.95 453.2 L267.95 453.2 L264.95 453.2 L261.95 453.2 L258.95 453.2 L255.95 453.2 L252.95 453.2 L249.95 453.2 L246.95 453.2 L243.95 453.2 L240.95 453.2 L237.95 453.2 L234.95 453.2 L231.95 453.2 L228.95 453.2 L225.95 453.2 L222.95 453.2 L219.95 453.2 L216.95 453.2 L213.95 453.2 L210.95 453.2 L207.95 453.2 L204.95 453.2 L201.95 453.2 L198.95 453.2 L195.95 453.2 L192.95 453.2 L189.95 453.2 L186.95 453.2 L183.95 453.2 L180.95 453.2 L177.95 453.2 L174.95 453.2 L171.95 453.2 L168.95 453.2 L165.95 453.2 L162.95 453.2 L159.95 453.2 L156.95 453.2 L153.95 453.2 L150.95 453.2 L147.95 453.2 L144.95 453.2 L141.95 453.2 L138.95 453.2 L135.95 453.2 L132.95 453.2 L129.95 453.2 L126.95 453.2 L123.95 453.2 L120.95 453.2 L117.95 453.2 L114.95 453.2 L111.95 453.2 L108.95 453.2 L105.95 453.2 L102.95 453.2 L99.95 453.2 L96.95 453.2 L93.95 453.2 L90.95 453.2 L87.95 453.2 L84.95 453.2 L81.95 453.2 L78.95 453.2 L75.95 453.2 L72.95 453.2 L69.95 453.2 L66.95 453.2 L63.95 453.2 L60.95 453.2 L57.95 453.2 L54.95 453.2 L51.95 453.2 L48.95 453.2 L45.95 453.2 L42.95 453.2 L39.95 453.2 L36.95 453.2 Z"/><path id="cP" d="M36.95 452.95 L37.95 452.94 L38.95 452.94 L39.95 452.94 L40.95 452.93 L41.95 452.93 L42.95 452.93 L43.95 452.92 L44.95 452.92 L45.95 452.92 L46.95 452.91 L47.95 452.91 L48.95 452.91 L49.95 452.9 L50.95 452.9 L51.95 452.89 L52.95 452.89 L53.95 452.89 L54.95 452.88 L55.95 452.88 L56.95 452.87 L57.95 452.87 L58.95 452.86 L59.95 452.86 L60.95 452.85 L61.95 452.85 L62.95 452.85 L63.95 452.84 L64.95 452.83 L65.95 452.83 L66.95 452.82 L67.95 452.82 L68.95 452.81 L69.95 452.81 L70.95 452.8 L71.95 452.8 L72.95 452.79 L73.95 452.78 L74.95 452.78 L75.95 452.77 L76.95 452.76 L77.95 452.76 L78.95 452.75 L79.95 452.74 L80.95 452.74 L81.95 452.73 L82.95 452.72 L83.95 452.71 L84.95 452.7 L85.95 452.7 L86.95 452.69 L87.95 452.68 L88.95 452.67 L89.95 452.66 L90.95 452.65 L91.95 452.64 L92.95 452.63 L93.95 452.62 L94.95 452.61 L95.95 452.6 L96.95 452.59 L97.95 452.58 L98.95 452.57 L99.95 452.55 L100.95 452.54 L101.95 452.53 L102.95 452.52 L103.95 452.5 L104.95 452.49 L105.95 452.47 L106.95 452.46 L107.95 452.44 L108.95 452.43 L109.95 452.41 L110.95 452.4 L111.95 452.38 L112.95 452.36 L113.95 452.34 L114.95 452.33 L115.95 452.31 L116.95 452.29 L117.95 452.27 L118.95 452.24 L119.95 452.22 L120.95 452.2 L121.95 452.18 L122.95 452.15 L123.95 452.12 L124.95 452.1 L125.95 452.07 L126.95 452.04 L127.95 452.01 L128.95 451.98 L129.95 451.95 L130.95 451.92 L131.95 451.88 L132.95 451.84 L133.95 451.8 L134.95 451.76 L135.95 451.72 L136.95 451.67 L137.95 451.62 L138.95 451.57 L139.95 451.51 L140.95 451.45 L141.95 451.38 L142.95 451.31 L143.95 451.22 L144.95 451.13 L145.95 451.03 L146.95 450.92 L147.95 450.79 L148.95 450.64 L149.95 450.48 L150.95 450.29 L151.95 450.08 L152.95 449.83 L153.95 449.56 L154.95 449.24 L155.95 448.87 L156.95 448.45 L157.95 447.98 L158.95 447.43 L159.95 446.81 L160.95 446.11 L161.95 445.31 L162.95 444.4 L163.95 443.38 L164.95 442.23 L165.95 440.95 L166.95 439.51 L167.95 437.91 L168.95 436.14 L169.95 434.18 L170.95 432.03 L171.95 429.67 L172.95 427.1 L173.95 424.31 L174.95 421.29 L175.95 418.04 L176.95 414.57 L177.95 410.86 L178.95 406.94 L179.95 402.79 L180.95 398.45 L181.95 393.91 L182.95 389.21 L183.95 384.35 L184.95 379.37 L185.95 374.29 L186.95 369.15 L187.95 363.99 L188.95 358.84 L189.95 353.74 L190.95 348.75 L191.95 343.9 L192.95 339.25 L193.95 334.84 L194.95 330.72 L195.95 326.95 L196.95 323.57 L197.95 320.63 L198.95 318.16 L199.95 316.21 L200.95 314.8 L201.95 313.96 L202.95 313.7 L203.95 314.02 L204.95 314.92 L205.95 316.38 L206.95 318.39 L207.95 320.9 L208.95 323.89 L209.95 327.31 L210.95 331.12 L211.95 335.26 L212.95 339.7 L213.95 344.38 L214.95 349.24 L215.95 354.25 L216.95 359.35 L217.95 364.51 L218.95 369.67 L219.95 374.8 L220.95 379.87 L221.95 384.84 L222.95 389.68 L223.95 394.37 L224.95 398.89 L225.95 403.22 L226.95 407.34 L227.95 411.24 L228.95 414.92 L229.95 418.38 L230.95 421.6 L231.95 424.6 L232.95 427.36 L233.95 429.91 L234.95 432.25 L235.95 434.39 L236.95 436.32 L237.95 438.08 L238.95 439.66 L239.95 441.08 L240.95 442.36 L241.95 443.49 L242.95 444.5 L243.95 445.39 L244.95 446.18 L245.95 446.88 L246.95 447.49 L247.95 448.03 L248.95 448.5 L249.95 448.91 L250.95 449.27 L251.95 449.59 L252.95 449.86 L253.95 450.1 L254.95 450.31 L255.95 450.5 L256.95 450.66 L257.95 450.8 L258.95 450.93 L259.95 451.04 L260.95 451.14 L261.95 451.23 L262.95 451.31 L263.95 451.39 L264.95 451.46 L265.95 451.52 L266.95 451.57 L267.95 451.63 L268.95 451.68 L269.95 451.72 L270.95 451.77 L271.95 451.81 L272.95 451.85 L273.95 451.88 L274.95 451.92 L275.95 451.95 L276.95 451.99 L277.95 452.02 L278.95 452.05 L279.95 452.07 L280.95 452.1 L281.95 452.13 L282.95 452.15 L283.95 452.18 L284.95 452.2 L285.95 452.22 L286.95 452.25 L287.95 452.27 L288.95 452.29 L289.95 452.31 L290.95 452.33 L291.95 452.35 L292.95 452.36 L293.95 452.38 L294.95 452.4 L295.95 452.41 L296.95 452.43 L297.95 452.45 L298.95 452.46 L299.95 452.48 L300.95 452.49 L301.95 452.5 L302.05 452.51 L300.95 453.2 L297.95 453.2 L294.95 453.2 L291.95 453.2 L288.95 453.2 L285.95 453.2 L282.95 453.2 L279.95 453.2 L276.95 453.2 L273.95 453.2 L270.95 453.2 L267.95 453.2 L264.95 453.2 L261.95 453.2 L258.95 453.2 L255.95 453.2 L252.95 453.2 L249.95 453.2 L246.95 453.2 L243.95 453.2 L240.95 453.2 L237.95 453.2 L234.95 453.2 L231.95 453.2 L228.95 453.2 L225.95 453.2 L222.95 453.2 L219.95 453.2 L216.95 453.2 L213.95 453.2 L210.95 453.2 L207.95 453.2 L204.95 453.2 L201.95 453.2 L198.95 453.2 L195.95 453.2 L192.95 453.2 L189.95 453.2 L186.95 453.2 L183.95 453.2 L180.95 453.2 L177.95 453.2 L174.95 453.2 L171.95 453.2 L168.95 453.2 L165.95 453.2 L162.95 453.2 L159.95 453.2 L156.95 453.2 L153.95 453.2 L150.95 453.2 L147.95 453.2 L144.95 453.2 L141.95 453.2 L138.95 453.2 L135.95 453.2 L132.95 453.2 L129.95 453.2 L126.95 453.2 L123.95 453.2 L120.95 453.2 L117.95 453.2 L114.95 453.2 L111.95 453.2 L108.95 453.2 L105.95 453.2 L102.95 453.2 L99.95 453.2 L96.95 453.2 L93.95 453.2 L90.95 453.2 L87.95 453.2 L84.95 453.2 L81.95 453.2 L78.95 453.2 L75.95 453.2 L72.95 453.2 L69.95 453.2 L66.95 453.2 L63.95 453.2 L60.95 453.2 L57.95 453.2 L54.95 453.2 L51.95 453.2 L48.95 453.2 L45.95 453.2 L42.95 453.2 L39.95 453.2 L36.95 453.2 Z"/><clipPath id="ccB"><use href="#cB"/></clipPath><clipPath id="ccP"><use href="#cP"/></clipPath></defs><use href="#cP" fill="#E4CDE8"/><use href="#cB" fill="#B8A6D8"/><g clip-path="url(#ccP)"><use href="#cB" fill="#CDCDEB"/></g><use href="#cG" fill="#A2BCBC"/><g clip-path="url(#ccB)"><use href="#cG" fill="#B8BDB6"/></g><g clip-path="url(#ccB)"><g clip-path="url(#ccP)"><use href="#cG" fill="#CDE4CB"/></g></g><path d="M78.95 452.25 L79.95 452.19 L80.95 452.12 L81.95 452.05 L82.95 451.96 L83.95 451.87 L84.95 451.76 L85.95 451.64 L86.95 451.51 L87.95 451.36 L88.95 451.2 L89.95 451.02 L90.95 450.81 L91.95 450.59 L92.95 450.34 L93.95 450.06 L94.95 449.76 L95.95 449.43 L96.95 449.07 L97.95 448.67 L98.95 448.24 L99.95 447.78 L100.95 447.27 L101.95 446.73 L102.95 446.15 L103.95 445.52 L104.95 444.86 L105.95 444.15 L106.95 443.41 L107.95 442.62 L108.95 441.8 L109.95 440.93 L110.95 440.04 L111.95 439.1 L112.95 438.14 L113.95 437.16 L114.95 436.15 L115.95 435.12 L116.95 434.08 L117.95 433.04 L118.95 431.99 L119.95 430.95 L120.95 429.93 L121.95 428.92 L122.95 427.95 L123.95 427.01 L124.95 426.11 L125.95 425.27 L126.95 424.5 L127.95 423.79 L128.95 423.16 L129.95 422.62 L130.95 422.17 L131.95 421.82 L132.95 421.57 L133.95 421.43 L134.95 421.4 L135.95 421.48 L136.95 421.67 L137.95 421.96 L138.95 422.35 L139.95 422.84 L140.95 423.42 L141.95 424.08 L142.95 424.82 L143.95 425.62 L144.95 426.48 L145.95 427.4 L146.95 428.35 L147.95 429.34 L148.95 430.35 L149.95 431.39 L150.95 432.43 L151.95 433.48 L152.95 434.52 L153.95 435.55 L154.95 436.57 L155.95 437.57 L156.95 438.55 L157.95 439.5 L158.95 440.42 L159.95 441.3 L160.95 442.15 L161.95 442.96 L162.95 443.73 L163.95 444.46 L164.95 445.14 L165.95 445.79 L166.95 446.4 L167.95 446.96 L168.95 447.49 L169.95 447.98 L170.95 448.43 L171.95 448.84 L172.95 449.23 L173.95 449.57 L174.95 449.89 L175.95 450.18 L176.95 450.45 L177.95 450.69 L178.95 450.9 L179.95 451.1 L180.95 451.27 L181.95 451.43 L182.95 451.57 L183.95 451.69 L184.95 451.81 L185.95 451.91 L186.95 452 L187.95 452.08 L188.95 452.15 L189.95 452.21 L190.95 452.27" fill="none" stroke="#67A46C" stroke-width="1.4"/><path d="M116.95 452.29 L117.95 452.27 L118.95 452.24 L119.95 452.22 L120.95 452.2 L121.95 452.18 L122.95 452.15 L123.95 452.12 L124.95 452.1 L125.95 452.07 L126.95 452.04 L127.95 452.01 L128.95 451.98 L129.95 451.95 L130.95 451.92 L131.95 451.88 L132.95 451.84 L133.95 451.8 L134.95 451.76 L135.95 451.72 L136.95 451.67 L137.95 451.62 L138.95 451.57 L139.95 451.51 L140.95 451.45 L141.95 451.38 L142.95 451.31 L143.95 451.22 L144.95 451.13 L145.95 451.03 L146.95 450.92 L147.95 450.79 L148.95 450.64 L149.95 450.48 L150.95 450.29 L151.95 450.08 L152.95 449.83 L153.95 449.56 L154.95 449.24 L155.95 448.87 L156.95 448.45 L157.95 447.98 L158.95 447.43 L159.95 446.81 L160.95 446.11 L161.95 445.31 L162.95 444.4 L163.95 443.38 L164.95 442.23 L165.95 440.95 L166.95 439.51 L167.95 437.91 L168.95 436.14 L169.95 434.18 L170.95 432.03 L171.95 429.67 L172.95 427.1 L173.95 424.31 L174.95 421.29 L175.95 418.04 L176.95 414.57 L177.95 410.86 L178.95 406.94 L179.95 402.79 L180.95 398.45 L181.95 393.91 L182.95 389.21 L183.95 384.35 L184.95 379.37 L185.95 374.29 L186.95 369.15 L187.95 363.99 L188.95 358.84 L189.95 353.74 L190.95 348.75 L191.95 343.9 L192.95 339.25 L193.95 334.84 L194.95 330.72 L195.95 326.95 L196.95 323.57 L197.95 320.63 L198.95 318.16 L199.95 316.21 L200.95 314.8 L201.95 313.96 L202.95 313.7 L203.95 314.02 L204.95 314.92 L205.95 316.38 L206.95 318.39 L207.95 320.9 L208.95 323.89 L209.95 327.31 L210.95 331.12 L211.95 335.26 L212.95 339.7 L213.95 344.38 L214.95 349.24 L215.95 354.25 L216.95 359.35 L217.95 364.51 L218.95 369.67 L219.95 374.8 L220.95 379.87 L221.95 384.84 L222.95 389.68 L223.95 394.37 L224.95 398.89 L225.95 403.22 L226.95 407.34 L227.95 411.24 L228.95 414.92 L229.95 418.38 L230.95 421.6 L231.95 424.6 L232.95 427.36 L233.95 429.91 L234.95 432.25 L235.95 434.39 L236.95 436.32 L237.95 438.08 L238.95 439.66 L239.95 441.08 L240.95 442.36 L241.95 443.49 L242.95 444.5 L243.95 445.39 L244.95 446.18 L245.95 446.88 L246.95 447.49 L247.95 448.03 L248.95 448.5 L249.95 448.91 L250.95 449.27 L251.95 449.59 L252.95 449.86 L253.95 450.1 L254.95 450.31 L255.95 450.5 L256.95 450.66 L257.95 450.8 L258.95 450.93 L259.95 451.04 L260.95 451.14 L261.95 451.23 L262.95 451.31 L263.95 451.39 L264.95 451.46 L265.95 451.52 L266.95 451.57 L267.95 451.63 L268.95 451.68 L269.95 451.72 L270.95 451.77 L271.95 451.81 L272.95 451.85 L273.95 451.88 L274.95 451.92 L275.95 451.95 L276.95 451.99 L277.95 452.02 L278.95 452.05 L279.95 452.07 L280.95 452.1 L281.95 452.13 L282.95 452.15 L283.95 452.18 L284.95 452.2 L285.95 452.22 L286.95 452.25 L287.95 452.27 L288.95 452.29" fill="none" stroke="#B683C8" stroke-width="1.4"/><path d="M36.95 454.1 L39.95 454.1 L42.95 454.1 L45.95 454.1 L48.95 454.1 L51.95 454.1 L54.95 454.1 L57.95 454.1 L60.95 454.1 L63.95 454.1 L66.95 454.1 L69.95 454.1 L72.95 454.1 L75.95 454.1 L78.95 454.1 L81.95 454.1 L84.95 454.1 L87.95 454.1 L90.95 454.1 L93.95 454.1 L96.95 454.1 L99.95 454.1 L102.95 454.1 L105.95 454.1 L108.95 454.1 L111.95 454.1 L114.95 454.1 L117.95 454.1 L120.95 454.1 L123.95 454.1 L126.95 454.1 L129.95 454.1 L132.95 454.1 L135.95 454.1 L138.95 454.1 L141.95 454.1 L144.95 454.1 L147.95 454.1 L150.95 454.1 L153.95 454.1 L156.95 454.1 L159.95 454.1 L162.95 454.1 L165.95 454.1 L168.95 454.1 L171.95 454.1 L174.95 454.1 L177.95 454.1 L180.95 454.1 L183.95 454.1 L186.95 454.1 L189.95 454.1 L192.95 454.1 L195.95 454.1 L198.95 454.1 L201.95 454.1 L204.95 454.1 L207.95 454.1 L210.95 454.1 L213.95 454.1 L216.95 454.1 L219.95 454.1 L222.95 454.1 L225.95 454.1 L228.95 454.1 L231.95 454.1 L234.95 454.1 L237.95 454.1 L240.95 454.1 L243.95 454.1 L246.95 454.1 L249.95 454.1 L252.95 454.1 L255.95 454.1 L258.95 454.1 L261.95 454.1 L264.95 454.1 L267.95 454.1 L270.95 454.1 L273.95 454.1 L276.95 454.1 L279.95 454.1 L282.95 454.1 L285.95 454.1 L288.95 454.1 L291.95 454.1 L294.95 454.1 L297.95 454.1 L300.95 454.1 L302.05 454.1" fill="none" stroke="#A6C8E6" stroke-width="2"/><path d="M36.95 453.08 L37.95 453.08 L38.95 453.07 L39.95 453.07 L40.95 453.07 L41.95 453.07 L42.95 453.07 L43.95 453.06 L44.95 453.06 L45.95 453.06 L46.95 453.06 L47.95 453.06 L48.95 453.05 L49.95 453.05 L50.95 453.05 L51.95 453.05 L52.95 453.04 L53.95 453.04 L54.95 453.04 L55.95 453.04 L56.95 453.03 L57.95 453.03 L58.95 453.03 L59.95 453.02 L60.95 453.02 L61.95 453.02 L62.95 453.01 L63.95 453.01 L64.95 453.01 L65.95 453 L66.95 453 L67.95 453 L68.95 452.99 L69.95 452.99 L70.95 452.98 L71.95 452.98 L72.95 452.97 L73.95 452.97 L74.95 452.97 L75.95 452.96 L76.95 452.96 L77.95 452.95 L78.95 452.94 L79.95 452.94 L80.95 452.93 L81.95 452.93 L82.95 452.92 L83.95 452.92 L84.95 452.91 L85.95 452.9 L86.95 452.9 L87.95 452.89 L88.95 452.88 L89.95 452.87 L90.95 452.87 L91.95 452.86 L92.95 452.85 L93.95 452.84 L94.95 452.83 L95.95 452.82 L96.95 452.81 L97.95 452.8 L98.95 452.79 L99.95 452.77 L100.95 452.76 L101.95 452.75 L102.95 452.73 L103.95 452.71 L104.95 452.7 L105.95 452.68 L106.95 452.65 L107.95 452.63 L108.95 452.61 L109.95 452.58 L110.95 452.54 L111.95 452.51 L112.95 452.47 L113.95 452.42 L114.95 452.37 L115.95 452.31 L116.95 452.25 L117.95 452.17 L118.95 452.09 L119.95 451.99 L120.95 451.88 L121.95 451.76 L122.95 451.62 L123.95 451.47 L124.95 451.3 L125.95 451.1 L126.95 450.88 L127.95 450.64 L128.95 450.37 L129.95 450.07 L130.95 449.73 L131.95 449.36 L132.95 448.96 L133.95 448.51 L134.95 448.03 L135.95 447.5 L136.95 446.93 L137.95 446.31 L138.95 445.64 L139.95 444.92 L140.95 444.16 L141.95 443.34 L142.95 442.48 L143.95 441.57 L144.95 440.62 L145.95 439.62 L146.95 438.58 L147.95 437.51 L148.95 436.4 L149.95 435.26 L150.95 434.11 L151.95 432.93 L152.95 431.75 L153.95 430.57 L154.95 429.39 L155.95 428.23 L156.95 427.09 L157.95 425.99 L158.95 424.93 L159.95 423.93 L160.95 422.98 L161.95 422.11 L162.95 421.33 L163.95 420.63 L164.95 420.04 L165.95 419.56 L166.95 419.19 L167.95 418.94 L168.95 418.82 L169.95 418.82 L170.95 418.94 L171.95 419.19 L172.95 419.56 L173.95 420.04 L174.95 420.63 L175.95 421.33 L176.95 422.11 L177.95 422.98 L178.95 423.93 L179.95 424.93 L180.95 425.99 L181.95 427.09 L182.95 428.23 L183.95 429.39 L184.95 430.57 L185.95 431.75 L186.95 432.93 L187.95 434.11 L188.95 435.26 L189.95 436.4 L190.95 437.51 L191.95 438.58 L192.95 439.62 L193.95 440.62 L194.95 441.57 L195.95 442.48 L196.95 443.34 L197.95 444.16 L198.95 444.92 L199.95 445.64 L200.95 446.31 L201.95 446.93 L202.95 447.5 L203.95 448.03 L204.95 448.51 L205.95 448.96 L206.95 449.36 L207.95 449.73 L208.95 450.07 L209.95 450.37 L210.95 450.64 L211.95 450.88 L212.95 451.1 L213.95 451.3 L214.95 451.47 L215.95 451.62 L216.95 451.76 L217.95 451.88 L218.95 451.99 L219.95 452.09 L220.95 452.17 L221.95 452.25 L222.95 452.31 L223.95 452.37 L224.95 452.42 L225.95 452.47 L226.95 452.51 L227.95 452.54 L228.95 452.58 L229.95 452.61 L230.95 452.63 L231.95 452.65 L232.95 452.68 L233.95 452.7 L234.95 452.71 L235.95 452.73 L236.95 452.75 L237.95 452.76 L238.95 452.77 L239.95 452.79 L240.95 452.8 L241.95 452.81 L242.95 452.82 L243.95 452.83 L244.95 452.84 L245.95 452.85 L246.95 452.86 L247.95 452.87 L248.95 452.87 L249.95 452.88 L250.95 452.89 L251.95 452.9 L252.95 452.9 L253.95 452.91 L254.95 452.92 L255.95 452.92 L256.95 452.93 L257.95 452.93 L258.95 452.94 L259.95 452.94 L260.95 452.95 L261.95 452.96 L262.95 452.96 L263.95 452.97 L264.95 452.97 L265.95 452.97 L266.95 452.98 L267.95 452.98 L268.95 452.99 L269.95 452.99 L270.95 453 L271.95 453 L272.95 453 L273.95 453.01 L274.95 453.01 L275.95 453.01 L276.95 453.02 L277.95 453.02 L278.95 453.02 L279.95 453.03 L280.95 453.03 L281.95 453.03 L282.95 453.04 L283.95 453.04 L284.95 453.04 L285.95 453.04 L286.95 453.05 L287.95 453.05 L288.95 453.05 L289.95 453.05 L290.95 453.06 L291.95 453.06 L292.95 453.06 L293.95 453.06 L294.95 453.06 L295.95 453.07 L296.95 453.07 L297.95 453.07 L298.95 453.07 L299.95 453.07 L300.95 453.08 L301.95 453.08 L302.05 453.08" fill="none" stroke="#6660BE" stroke-width="1.4"/><path d="M37.05 452.07 L38.65 456.39 L40.25 452.66 L41.85 452.3 L43.45 452.75 L45.05 451.13 L46.65 452.77 L48.25 451.64 L49.85 451.52 L51.45 453.16 L53.05 451.99 L54.65 454.85 L56.25 454.84 L57.85 451.89 L59.45 450.41 L61.05 453.38 L62.65 452.31 L64.25 453.02 L65.85 452.28 L67.45 454.29 L69.05 452.51 L70.65 451.18 L72.25 451.42 L73.85 452.32 L75.45 452.69 L77.05 451.86 L78.65 452.1 L80.25 451.68 L81.85 450.15 L83.45 451.18 L85.05 450.43 L86.65 449.4 L88.25 448.18 L89.85 449.25 L91.45 447.95 L93.05 447.84 L94.65 447.51 L96.25 444.66 L97.85 445.78 L99.45 445.39 L101.05 443.54 L102.65 443.38 L104.25 440.33 L105.85 440.55 L107.45 440.24 L109.05 438.85 L110.65 436.02 L112.25 434.67 L113.85 433.38 L115.45 433.26 L117.05 430.62 L118.65 429.27 L120.25 426.78 L121.85 425.27 L123.45 423.11 L125.05 421.14 L126.65 419.68 L128.25 417.73 L129.85 416.45 L131.45 414.33 L133.05 413.31 L134.65 411.84 L136.25 410.93 L137.85 409.24 L139.45 407.26 L141.05 407.69 L142.65 405.1 L144.25 404.47 L145.85 402.56 L147.45 402.13 L149.05 401.88 L150.65 404.65 L152.25 404.09 L153.85 403.04 L155.45 402.83 L157.05 401.2 L158.65 401.51 L160.25 399.99 L161.85 398.29 L163.45 396.56 L165.05 396.57 L166.65 395.05 L168.25 391.29 L169.85 390.39 L171.45 387.45 L173.05 384.73 L174.65 381.91 L176.25 379.04 L177.85 375.37 L179.45 371.04 L181.05 365.34 L182.65 358.33 L184.25 352.56 L185.85 346.58 L187.45 340.78 L189.05 334.1 L190.65 326.39 L192.25 319.9 L193.85 314.9 L195.45 314.02 L197.05 311.56 L198.65 310.01 L200.25 308.6 L201.85 308.17 L203.45 309.38 L205.05 308.53 L206.65 310.11 L208.25 314.37 L209.85 320.46 L211.45 326.48 L213.05 333.85 L214.65 341.82 L216.25 350.01 L217.85 357.86 L219.45 365.89 L221.05 374.52 L222.65 382.4 L224.25 390.87 L225.85 398.52 L227.45 405.37 L229.05 411.76 L230.65 417.15 L232.25 421.94 L233.85 426.21 L235.45 430.26 L237.05 434.16 L238.65 437.85 L240.25 440.5 L241.85 442.86 L243.45 444.97 L245.05 446.18 L246.65 447.44 L248.25 448.84 L249.85 449.34 L251.45 448.97 L253.05 448.69 L254.65 449.68 L256.25 450.22 L257.85 449.74 L259.45 449.56 L261.05 451.06 L262.65 451.28 L264.25 450.68 L265.85 451.63 L267.45 451.57 L269.05 451.99 L270.65 451.65 L272.25 452.25 L273.85 452.37 L275.45 451.45 L277.05 451.57 L278.65 452.49 L280.25 452.95 L281.85 456.74 L283.45 452.03 L285.05 452.36 L286.65 452.57 L288.25 452.21 L289.85 452.29 L291.45 452.24 L293.05 452.34 L294.65 452.67 L296.25 455.95 L297.85 455.96 L299.45 452.3 L301.05 452.42" fill="none" stroke="#161616" stroke-width="1.15" stroke-linejoin="round"/><path d="M36.8 452.4 L41.28 452.36 L47.77 452.31 L54.58 452.25 L60 452.2 L63.46 452.16 L65.9 452.12 L67.89 452.08 L70 452 L72.27 451.92 L74.45 451.83 L76.6 451.67 L78.8 451.4 L81.06 451 L83.36 450.49 L85.67 449.89 L88 449.2 L90.38 448.43 L92.79 447.57 L95.19 446.63 L97.5 445.6 L99.65 444.54 L101.7 443.44 L103.77 442.16 L106 440.6 L108.48 438.66 L111.12 436.43 L113.78 434.04 L116.3 431.6 L118.66 429.07 L120.94 426.41 L123.12 423.76 L125.2 421.3 L127.1 419.04 L128.84 416.89 L130.59 414.88 L132.5 413 L134.64 411.22 L136.93 409.56 L139.25 408.06 L141.5 406.8 L143.68 405.85 L145.84 405.16 L147.96 404.59 L150 404 L151.95 403.45 L153.81 402.97 L155.65 402.42 L157.5 401.6 L159.4 400.49 L161.33 399.16 L163.21 397.66 L165 396 L166.69 394.12 L168.32 392.03 L169.85 389.87 L171.25 387.8 L172.53 385.78 L173.69 383.76 L174.72 381.86 L175.6 380.2 L176.26 378.92 L176.72 377.92 L177.13 376.96 L177.6 375.8 L178.16 374.49 L178.74 373.12 L179.36 371.52 L180 369.5 L180.64 367.06 L181.28 364.29 L182.01 361.13 L182.9 357.5 L184.04 353.24 L185.36 348.44 L186.73 343.41 L188 338.5 L189.13 333.54 L190.21 328.44 L191.25 323.62 L192.3 319.5 L193.37 316.21 L194.43 313.51 L195.48 311.3 L196.5 309.5 L197.49 308.16 L198.46 307.31 L199.4 306.78 L200.3 306.4 L201.14 306.17 L201.94 306.16 L202.72 306.32 L203.5 306.6 L204.29 306.89 L205.07 307.25 L205.84 307.88 L206.6 309 L207.33 310.66 L208.03 312.76 L208.74 315.23 L209.5 318 L210.24 320.76 L210.98 323.66 L211.83 327.27 L212.9 332.2 L214.29 338.96 L215.91 347.12 L217.63 355.85 L219.3 364.3 L220.95 372.69 L222.63 381.31 L224.25 389.48 L225.7 396.5 L226.9 401.97 L227.91 406.32 L228.9 410.15 L230 414 L231.29 418.04 L232.68 421.97 L234.08 425.66 L235.4 429 L236.6 431.94 L237.73 434.55 L238.84 436.88 L240 439 L241.17 440.87 L242.35 442.49 L243.6 443.91 L245 445.2 L246.49 446.36 L248.04 447.35 L249.83 448.22 L252 449 L254.62 449.69 L257.61 450.27 L260.86 450.77 L264.3 451.2 L267.83 451.55 L271.53 451.82 L275.54 452.03 L280 452.2 L285.61 452.33 L292.08 452.41 L298.06 452.46 L302.2 452.5" fill="none" stroke="#D22020" stroke-width="1.7" stroke-linejoin="round"/><rect x="36.25" y="272.5" width="266.5" height="214.4" fill="none" stroke="#2e2e2e" stroke-width="1.3"/><path d="M69.56 486.9 V490.7 M136.18 486.9 V490.7 M202.8 486.9 V490.7 M269.42 486.9 V490.7 M36.25 486.9 V489.1 M102.87 486.9 V489.1 M169.49 486.9 V489.1 M236.11 486.9 V489.1 M302.73 486.9 V489.1" stroke="#2e2e2e" stroke-width="1.2" fill="none"/><text x="69.56" y="504.1" font-size="12" text-anchor="middle" font-weight="normal" fill="#111">534</text><text x="136.18" y="504.1" font-size="12" text-anchor="middle" font-weight="normal" fill="#111">532</text><text x="202.8" y="504.1" font-size="12" text-anchor="middle" font-weight="normal" fill="#111">530</text><text x="269.42" y="504.1" font-size="12" text-anchor="middle" font-weight="normal" fill="#111">528</text><text x="169.8" y="520.6" font-size="14.45" text-anchor="middle" font-weight="normal" fill="#111">Binding energy (eV)</text><text transform="translate(22,379.6) rotate(-90)" font-size="14.45" text-anchor="middle" font-weight="normal" fill="#111">Intensity (a.u.)</text><text x="9" y="273.7" font-size="18" text-anchor="start" font-weight="bold" fill="#000">(c)</text><text x="68" y="298" font-size="14" text-anchor="start" font-weight="normal" fill="#111">ZnO</text><text x="68" y="315.6" font-size="14" text-anchor="start" font-weight="normal" fill="#111">O 1s</text><text x="103.3" y="393.5" font-size="10" fill="#111" stroke="#111" stroke-width="0.25">O<tspan font-size="6.5" dy="2.4">C</tspan></text><text x="93.5" y="408" font-size="10" text-anchor="start" font-weight="normal" fill="#111" stroke="#111" stroke-width="0.25">532 eV</text><text x="145.2" y="375.4" font-size="10" fill="#111" stroke="#111" stroke-width="0.25">O<tspan font-size="6.5" dy="2.4">V</tspan></text><text x="135.8" y="389.8" font-size="10" text-anchor="start" font-weight="normal" fill="#111" stroke="#111" stroke-width="0.25">531 eV</text><text x="221.2" y="287.2" font-size="10" fill="#111" stroke="#111" stroke-width="0.25">O<tspan font-size="6.5" dy="2.4">L</tspan></text><text x="211.2" y="301.7" font-size="10" text-anchor="start" font-weight="normal" fill="#111" stroke="#111" stroke-width="0.25">530 eV</text><text x="185.8" y="399.2" font-size="10" text-anchor="start" font-weight="normal" fill="#111" stroke="#111" stroke-width="0.25">64.4%</text><text x="160.5" y="438.5" font-size="10" text-anchor="start" font-weight="normal" fill="#111" stroke="#111" stroke-width="0.25">18.4%</text><text x="113.4" y="442.1" font-size="10" text-anchor="start" font-weight="normal" fill="#111" stroke="#111" stroke-width="0.25">17.1%</text><path d="M121 412 L126.15 420.5" stroke="#111" stroke-width="1.2"/><path d="M129 425.2 L124.18 420.52 L127.08 418.76 Z" fill="#111"/><path d="M158.9 397 L165.51 413.97" stroke="#111" stroke-width="1.2"/><path d="M167.5 419.1 L163.56 413.66 L166.73 412.43 Z" fill="#111"/><path d="M214.5 306.5 L210.27 309.93" stroke="#111" stroke-width="1.2"/><path d="M206 313.4 L209.98 307.98 L212.12 310.62 Z" fill="#111"/><defs><path id="dG" d="M365.2 442.48 L366.2 442.47 L367.2 442.46 L368.2 442.45 L369.2 442.44 L370.2 442.42 L371.2 442.41 L372.2 442.4 L373.2 442.38 L374.2 442.36 L375.2 442.34 L376.2 442.32 L377.2 442.3 L378.2 442.28 L379.2 442.26 L380.2 442.23 L381.2 442.2 L382.2 442.17 L383.2 442.14 L384.2 442.11 L385.2 442.08 L386.2 442.04 L387.2 442 L388.2 441.96 L389.2 441.92 L390.2 441.87 L391.2 441.82 L392.2 441.77 L393.2 441.72 L394.2 441.66 L395.2 441.6 L396.2 441.53 L397.2 441.47 L398.2 441.4 L399.2 441.32 L400.2 441.24 L401.2 441.16 L402.2 441.08 L403.2 440.99 L404.2 440.89 L405.2 440.8 L406.2 440.69 L407.2 440.59 L408.2 440.48 L409.2 440.36 L410.2 440.24 L411.2 440.12 L412.2 439.99 L413.2 439.85 L414.2 439.71 L415.2 439.57 L416.2 439.42 L417.2 439.27 L418.2 439.11 L419.2 438.94 L420.2 438.77 L421.2 438.6 L422.2 438.42 L423.2 438.23 L424.2 438.04 L425.2 437.85 L426.2 437.65 L427.2 437.44 L428.2 437.24 L429.2 437.02 L430.2 436.8 L431.2 436.58 L432.2 436.35 L433.2 436.12 L434.2 435.89 L435.2 435.65 L436.2 435.41 L437.2 435.16 L438.2 434.92 L439.2 434.67 L440.2 434.41 L441.2 434.16 L442.2 433.91 L443.2 433.65 L444.2 433.4 L445.2 433.14 L446.2 432.89 L447.2 432.63 L448.2 432.38 L449.2 432.13 L450.2 431.88 L451.2 431.64 L452.2 431.39 L453.2 431.15 L454.2 430.91 L455.2 430.68 L456.2 430.45 L457.2 430.23 L458.2 430.01 L459.2 429.79 L460.2 429.58 L461.2 429.38 L462.2 429.19 L463.2 429 L464.2 428.81 L465.2 428.64 L466.2 428.47 L467.2 428.32 L468.2 428.17 L469.2 428.03 L470.2 427.89 L471.2 427.77 L472.2 427.67 L473.2 427.57 L474.2 427.49 L475.2 427.42 L476.2 427.36 L477.2 427.32 L478.2 427.28 L479.2 427.27 L480.2 427.26 L481.2 427.27 L482.2 427.3 L483.2 427.33 L484.2 427.39 L485.2 427.45 L486.2 427.53 L487.2 427.62 L488.2 427.73 L489.2 427.85 L490.2 427.98 L491.2 428.14 L492.2 428.31 L493.2 428.5 L494.2 428.72 L495.2 428.95 L496.2 429.19 L497.2 429.46 L498.2 429.74 L499.2 430.03 L500.2 430.33 L501.2 430.65 L502.2 430.98 L503.2 431.32 L504.2 431.67 L505.2 432.02 L506.2 432.38 L507.2 432.75 L508.2 433.12 L509.2 433.5 L510.2 433.87 L511.2 434.25 L512.2 434.64 L513.2 435.04 L514.2 435.44 L515.2 435.85 L516.2 436.26 L517.2 436.68 L518.2 437.1 L519.2 437.52 L520.2 437.94 L521.2 438.36 L522.2 438.79 L523.2 439.21 L524.2 439.63 L525.2 440.05 L526.2 440.47 L527.2 440.89 L528.2 441.3 L529.2 441.7 L530.2 442.11 L531.2 442.5 L532.2 442.9 L533.2 443.29 L534.2 443.68 L535.2 444.07 L536.2 444.45 L537.2 444.83 L538.2 445.21 L539.2 445.58 L540.2 445.94 L541.2 446.3 L542.2 446.65 L543.2 446.99 L544.2 447.32 L545.2 447.65 L546.2 447.96 L547.2 448.27 L548.2 448.57 L549.2 448.85 L550.2 449.13 L551.2 449.39 L552.2 449.65 L553.2 449.9 L554.2 450.14 L555.2 450.38 L556.2 450.62 L557.2 450.84 L558.2 451.06 L559.2 451.28 L560.2 451.48 L561.2 451.68 L562.2 451.87 L563.2 452.05 L564.2 452.23 L565.2 452.4 L566.2 452.55 L567.2 452.7 L568.2 452.85 L569.2 452.98 L570.2 453.1 L571.2 453.22 L572.2 453.32 L573.2 453.42 L574.2 453.51 L575.2 453.6 L576.2 453.69 L577.2 453.77 L578.2 453.85 L579.2 453.93 L580.2 454 L581.2 454.07 L582.2 454.13 L583.2 454.2 L584.2 454.25 L585.2 454.31 L586.2 454.36 L587.2 454.41 L588.2 454.46 L589.2 454.5 L590.2 454.55 L591.2 454.58 L592.2 454.62 L593.2 454.66 L594.2 454.69 L595.2 454.72 L596.2 454.75 L597.2 454.77 L598.2 454.79 L599.2 454.82 L600.2 454.84 L601.2 454.85 L602.2 454.87 L603.2 454.89 L604.2 454.9 L605.2 454.92 L606.2 454.93 L607.2 454.94 L608.2 454.96 L609.2 454.97 L610.2 454.98 L611.2 454.99 L612.2 455 L613.2 455.01 L614.2 455.02 L615.2 455.02 L616.2 455.03 L617.2 455.04 L618.2 455.04 L619.2 455.05 L620.2 455.06 L621.2 455.06 L622.2 455.07 L623.2 455.07 L624.2 455.07 L625.2 455.08 L626.2 455.08 L627.2 455.08 L628.2 455.09 L629.2 455.09 L630.2 455.09 L630.8 455.09 L629.2 455.1 L626.2 455.1 L623.2 455.09 L620.2 455.08 L617.2 455.08 L614.2 455.07 L611.2 455.05 L608.2 455.04 L605.2 455.03 L602.2 455.01 L599.2 455 L596.2 454.97 L593.2 454.94 L590.2 454.9 L587.2 454.85 L584.2 454.8 L581.2 454.74 L578.2 454.67 L575.2 454.59 L572.2 454.51 L569.2 454.4 L566.2 454.24 L563.2 454.04 L560.2 453.81 L557.2 453.56 L554.2 453.29 L551.2 453.02 L548.2 452.72 L545.2 452.37 L542.2 451.98 L539.2 451.57 L536.2 451.14 L533.2 450.71 L530.2 450.29 L527.2 449.85 L524.2 449.39 L521.2 448.92 L518.2 448.44 L515.2 447.98 L512.2 447.52 L509.2 447.08 L506.2 446.63 L503.2 446.17 L500.2 445.72 L497.2 445.29 L494.2 444.91 L491.2 444.6 L488.2 444.36 L485.2 444.15 L482.2 443.96 L479.2 443.79 L476.2 443.64 L473.2 443.51 L470.2 443.41 L467.2 443.32 L464.2 443.23 L461.2 443.15 L458.2 443.08 L455.2 443.01 L452.2 442.95 L449.2 442.9 L446.2 442.86 L443.2 442.82 L440.2 442.8 L437.2 442.79 L434.2 442.77 L431.2 442.76 L428.2 442.74 L425.2 442.73 L422.2 442.72 L419.2 442.71 L416.2 442.69 L413.2 442.68 L410.2 442.67 L407.2 442.66 L404.2 442.66 L401.2 442.65 L398.2 442.64 L395.2 442.63 L392.2 442.63 L389.2 442.62 L386.2 442.62 L383.2 442.61 L380.2 442.61 L377.2 442.61 L374.2 442.6 L371.2 442.6 L368.2 442.6 L365.2 442.6 Z"/><path id="dB" d="M365.2 442.22 L366.2 442.21 L367.2 442.21 L368.2 442.2 L369.2 442.19 L370.2 442.19 L371.2 442.18 L372.2 442.18 L373.2 442.17 L374.2 442.17 L375.2 442.16 L376.2 442.16 L377.2 442.15 L378.2 442.15 L379.2 442.14 L380.2 442.13 L381.2 442.13 L382.2 442.12 L383.2 442.12 L384.2 442.11 L385.2 442.1 L386.2 442.1 L387.2 442.09 L388.2 442.08 L389.2 442.08 L390.2 442.07 L391.2 442.06 L392.2 442.05 L393.2 442.05 L394.2 442.04 L395.2 442.03 L396.2 442.02 L397.2 442.02 L398.2 442.01 L399.2 442 L400.2 441.99 L401.2 441.98 L402.2 441.97 L403.2 441.96 L404.2 441.95 L405.2 441.94 L406.2 441.93 L407.2 441.92 L408.2 441.91 L409.2 441.9 L410.2 441.89 L411.2 441.88 L412.2 441.87 L413.2 441.85 L414.2 441.84 L415.2 441.83 L416.2 441.81 L417.2 441.8 L418.2 441.78 L419.2 441.77 L420.2 441.75 L421.2 441.73 L422.2 441.72 L423.2 441.7 L424.2 441.68 L425.2 441.66 L426.2 441.63 L427.2 441.61 L428.2 441.59 L429.2 441.56 L430.2 441.53 L431.2 441.5 L432.2 441.47 L433.2 441.44 L434.2 441.4 L435.2 441.36 L436.2 441.31 L437.2 441.27 L438.2 441.21 L439.2 441.16 L440.2 441.1 L441.2 441.03 L442.2 440.95 L443.2 440.87 L444.2 440.78 L445.2 440.69 L446.2 440.58 L447.2 440.46 L448.2 440.33 L449.2 440.19 L450.2 440.03 L451.2 439.85 L452.2 439.66 L453.2 439.44 L454.2 439.2 L455.2 438.93 L456.2 438.64 L457.2 438.31 L458.2 437.95 L459.2 437.56 L460.2 437.13 L461.2 436.66 L462.2 436.14 L463.2 435.57 L464.2 434.96 L465.2 434.29 L466.2 433.56 L467.2 432.78 L468.2 431.93 L469.2 431.02 L470.2 430.04 L471.2 429 L472.2 427.88 L473.2 426.7 L474.2 425.44 L475.2 424.11 L476.2 422.71 L477.2 421.24 L478.2 419.69 L479.2 418.08 L480.2 416.39 L481.2 414.63 L482.2 412.82 L483.2 410.94 L484.2 409 L485.2 407.02 L486.2 404.99 L487.2 402.92 L488.2 400.82 L489.2 398.7 L490.2 396.56 L491.2 394.43 L492.2 392.3 L493.2 390.2 L494.2 388.14 L495.2 386.11 L496.2 384.14 L497.2 382.24 L498.2 380.41 L499.2 378.68 L500.2 377.05 L501.2 375.54 L502.2 374.16 L503.2 372.92 L504.2 371.82 L505.2 370.89 L506.2 370.13 L507.2 369.55 L508.2 369.16 L509.2 368.95 L510.2 368.94 L511.2 369.12 L512.2 369.51 L513.2 370.09 L514.2 370.86 L515.2 371.82 L516.2 372.96 L517.2 374.27 L518.2 375.73 L519.2 377.34 L520.2 379.09 L521.2 380.95 L522.2 382.93 L523.2 384.99 L524.2 387.14 L525.2 389.36 L526.2 391.63 L527.2 393.94 L528.2 396.28 L529.2 398.64 L530.2 401 L531.2 403.36 L532.2 405.71 L533.2 408.04 L534.2 410.35 L535.2 412.62 L536.2 414.84 L537.2 417.01 L538.2 419.13 L539.2 421.19 L540.2 423.18 L541.2 425.1 L542.2 426.95 L543.2 428.72 L544.2 430.42 L545.2 432.03 L546.2 433.57 L547.2 435.03 L548.2 436.4 L549.2 437.7 L550.2 438.92 L551.2 440.07 L552.2 441.14 L553.2 442.15 L554.2 443.09 L555.2 443.97 L556.2 444.79 L557.2 445.55 L558.2 446.26 L559.2 446.91 L560.2 447.52 L561.2 448.08 L562.2 448.6 L563.2 449.07 L564.2 449.51 L565.2 449.91 L566.2 450.28 L567.2 450.61 L568.2 450.91 L569.2 451.19 L570.2 451.44 L571.2 451.66 L572.2 451.86 L573.2 452.04 L574.2 452.21 L575.2 452.36 L576.2 452.51 L577.2 452.63 L578.2 452.75 L579.2 452.86 L580.2 452.97 L581.2 453.06 L582.2 453.15 L583.2 453.23 L584.2 453.3 L585.2 453.37 L586.2 453.44 L587.2 453.5 L588.2 453.56 L589.2 453.61 L590.2 453.66 L591.2 453.71 L592.2 453.75 L593.2 453.8 L594.2 453.84 L595.2 453.87 L596.2 453.91 L597.2 453.94 L598.2 453.97 L599.2 454 L600.2 454.03 L601.2 454.06 L602.2 454.08 L603.2 454.11 L604.2 454.13 L605.2 454.15 L606.2 454.17 L607.2 454.2 L608.2 454.22 L609.2 454.24 L610.2 454.26 L611.2 454.28 L612.2 454.29 L613.2 454.31 L614.2 454.33 L615.2 454.35 L616.2 454.36 L617.2 454.38 L618.2 454.39 L619.2 454.41 L620.2 454.42 L621.2 454.44 L622.2 454.45 L623.2 454.46 L624.2 454.48 L625.2 454.49 L626.2 454.5 L627.2 454.51 L628.2 454.52 L629.2 454.53 L630.2 454.54 L630.8 454.55 L629.2 455.1 L626.2 455.1 L623.2 455.09 L620.2 455.08 L617.2 455.08 L614.2 455.07 L611.2 455.05 L608.2 455.04 L605.2 455.03 L602.2 455.01 L599.2 455 L596.2 454.97 L593.2 454.94 L590.2 454.9 L587.2 454.85 L584.2 454.8 L581.2 454.74 L578.2 454.67 L575.2 454.59 L572.2 454.51 L569.2 454.4 L566.2 454.24 L563.2 454.04 L560.2 453.81 L557.2 453.56 L554.2 453.29 L551.2 453.02 L548.2 452.72 L545.2 452.37 L542.2 451.98 L539.2 451.57 L536.2 451.14 L533.2 450.71 L530.2 450.29 L527.2 449.85 L524.2 449.39 L521.2 448.92 L518.2 448.44 L515.2 447.98 L512.2 447.52 L509.2 447.08 L506.2 446.63 L503.2 446.17 L500.2 445.72 L497.2 445.29 L494.2 444.91 L491.2 444.6 L488.2 444.36 L485.2 444.15 L482.2 443.96 L479.2 443.79 L476.2 443.64 L473.2 443.51 L470.2 443.41 L467.2 443.32 L464.2 443.23 L461.2 443.15 L458.2 443.08 L455.2 443.01 L452.2 442.95 L449.2 442.9 L446.2 442.86 L443.2 442.82 L440.2 442.8 L437.2 442.79 L434.2 442.77 L431.2 442.76 L428.2 442.74 L425.2 442.73 L422.2 442.72 L419.2 442.71 L416.2 442.69 L413.2 442.68 L410.2 442.67 L407.2 442.66 L404.2 442.66 L401.2 442.65 L398.2 442.64 L395.2 442.63 L392.2 442.63 L389.2 442.62 L386.2 442.62 L383.2 442.61 L380.2 442.61 L377.2 442.61 L374.2 442.6 L371.2 442.6 L368.2 442.6 L365.2 442.6 Z"/><path id="dP" d="M365.2 442.4 L366.2 442.4 L367.2 442.39 L368.2 442.39 L369.2 442.39 L370.2 442.39 L371.2 442.38 L372.2 442.38 L373.2 442.38 L374.2 442.38 L375.2 442.38 L376.2 442.37 L377.2 442.37 L378.2 442.37 L379.2 442.37 L380.2 442.37 L381.2 442.36 L382.2 442.36 L383.2 442.36 L384.2 442.36 L385.2 442.36 L386.2 442.36 L387.2 442.35 L388.2 442.35 L389.2 442.35 L390.2 442.35 L391.2 442.35 L392.2 442.34 L393.2 442.34 L394.2 442.34 L395.2 442.34 L396.2 442.34 L397.2 442.33 L398.2 442.33 L399.2 442.33 L400.2 442.33 L401.2 442.33 L402.2 442.33 L403.2 442.32 L404.2 442.32 L405.2 442.32 L406.2 442.32 L407.2 442.31 L408.2 442.31 L409.2 442.31 L410.2 442.31 L411.2 442.31 L412.2 442.3 L413.2 442.3 L414.2 442.3 L415.2 442.3 L416.2 442.29 L417.2 442.29 L418.2 442.29 L419.2 442.28 L420.2 442.28 L421.2 442.28 L422.2 442.27 L423.2 442.27 L424.2 442.27 L425.2 442.26 L426.2 442.26 L427.2 442.26 L428.2 442.25 L429.2 442.25 L430.2 442.24 L431.2 442.24 L432.2 442.23 L433.2 442.23 L434.2 442.22 L435.2 442.22 L436.2 442.21 L437.2 442.21 L438.2 442.2 L439.2 442.19 L440.2 442.19 L441.2 442.18 L442.2 442.18 L443.2 442.17 L444.2 442.17 L445.2 442.17 L446.2 442.16 L447.2 442.16 L448.2 442.16 L449.2 442.16 L450.2 442.16 L451.2 442.16 L452.2 442.16 L453.2 442.16 L454.2 442.16 L455.2 442.17 L456.2 442.17 L457.2 442.17 L458.2 442.17 L459.2 442.18 L460.2 442.18 L461.2 442.18 L462.2 442.18 L463.2 442.18 L464.2 442.18 L465.2 442.18 L466.2 442.18 L467.2 442.18 L468.2 442.18 L469.2 442.18 L470.2 442.18 L471.2 442.18 L472.2 442.17 L473.2 442.17 L474.2 442.17 L475.2 442.18 L476.2 442.18 L477.2 442.18 L478.2 442.18 L479.2 442.19 L480.2 442.19 L481.2 442.19 L482.2 442.2 L483.2 442.2 L484.2 442.2 L485.2 442.2 L486.2 442.2 L487.2 442.19 L488.2 442.18 L489.2 442.17 L490.2 442.15 L491.2 442.14 L492.2 442.12 L493.2 442.1 L494.2 442.07 L495.2 442.04 L496.2 441.99 L497.2 441.93 L498.2 441.84 L499.2 441.73 L500.2 441.58 L501.2 441.39 L502.2 441.15 L503.2 440.85 L504.2 440.47 L505.2 440.01 L506.2 439.45 L507.2 438.78 L508.2 437.98 L509.2 437.03 L510.2 435.92 L511.2 434.64 L512.2 433.16 L513.2 431.46 L514.2 429.55 L515.2 427.39 L516.2 424.97 L517.2 422.29 L518.2 419.33 L519.2 416.09 L520.2 412.57 L521.2 408.78 L522.2 404.73 L523.2 400.43 L524.2 395.91 L525.2 391.21 L526.2 386.35 L527.2 381.39 L528.2 376.37 L529.2 371.36 L530.2 366.43 L531.2 361.64 L532.2 357.08 L533.2 352.83 L534.2 348.99 L535.2 345.63 L536.2 342.83 L537.2 340.67 L538.2 339.22 L539.2 338.51 L540.2 338.57 L541.2 339.41 L542.2 340.99 L543.2 343.29 L544.2 346.23 L545.2 349.76 L546.2 353.78 L547.2 358.21 L548.2 362.97 L549.2 367.96 L550.2 373.12 L551.2 378.36 L552.2 383.62 L553.2 388.84 L554.2 393.97 L555.2 398.95 L556.2 403.76 L557.2 408.34 L558.2 412.69 L559.2 416.78 L560.2 420.59 L561.2 424.12 L562.2 427.37 L563.2 430.33 L564.2 433.03 L565.2 435.46 L566.2 437.64 L567.2 439.58 L568.2 441.3 L569.2 442.82 L570.2 444.15 L571.2 445.31 L572.2 446.32 L573.2 447.2 L574.2 447.96 L575.2 448.62 L576.2 449.19 L577.2 449.69 L578.2 450.12 L579.2 450.49 L580.2 450.82 L581.2 451.1 L582.2 451.35 L583.2 451.58 L584.2 451.77 L585.2 451.95 L586.2 452.11 L587.2 452.25 L588.2 452.39 L589.2 452.51 L590.2 452.62 L591.2 452.72 L592.2 452.82 L593.2 452.9 L594.2 452.99 L595.2 453.07 L596.2 453.14 L597.2 453.21 L598.2 453.27 L599.2 453.33 L600.2 453.39 L601.2 453.45 L602.2 453.5 L603.2 453.55 L604.2 453.6 L605.2 453.64 L606.2 453.69 L607.2 453.73 L608.2 453.77 L609.2 453.81 L610.2 453.85 L611.2 453.88 L612.2 453.92 L613.2 453.95 L614.2 453.98 L615.2 454.02 L616.2 454.05 L617.2 454.07 L618.2 454.1 L619.2 454.13 L620.2 454.15 L621.2 454.18 L622.2 454.2 L623.2 454.22 L624.2 454.25 L625.2 454.27 L626.2 454.29 L627.2 454.31 L628.2 454.32 L629.2 454.34 L630.2 454.36 L630.8 454.37 L629.2 455.1 L626.2 455.1 L623.2 455.09 L620.2 455.08 L617.2 455.08 L614.2 455.07 L611.2 455.05 L608.2 455.04 L605.2 455.03 L602.2 455.01 L599.2 455 L596.2 454.97 L593.2 454.94 L590.2 454.9 L587.2 454.85 L584.2 454.8 L581.2 454.74 L578.2 454.67 L575.2 454.59 L572.2 454.51 L569.2 454.4 L566.2 454.24 L563.2 454.04 L560.2 453.81 L557.2 453.56 L554.2 453.29 L551.2 453.02 L548.2 452.72 L545.2 452.37 L542.2 451.98 L539.2 451.57 L536.2 451.14 L533.2 450.71 L530.2 450.29 L527.2 449.85 L524.2 449.39 L521.2 448.92 L518.2 448.44 L515.2 447.98 L512.2 447.52 L509.2 447.08 L506.2 446.63 L503.2 446.17 L500.2 445.72 L497.2 445.29 L494.2 444.91 L491.2 444.6 L488.2 444.36 L485.2 444.15 L482.2 443.96 L479.2 443.79 L476.2 443.64 L473.2 443.51 L470.2 443.41 L467.2 443.32 L464.2 443.23 L461.2 443.15 L458.2 443.08 L455.2 443.01 L452.2 442.95 L449.2 442.9 L446.2 442.86 L443.2 442.82 L440.2 442.8 L437.2 442.79 L434.2 442.77 L431.2 442.76 L428.2 442.74 L425.2 442.73 L422.2 442.72 L419.2 442.71 L416.2 442.69 L413.2 442.68 L410.2 442.67 L407.2 442.66 L404.2 442.66 L401.2 442.65 L398.2 442.64 L395.2 442.63 L392.2 442.63 L389.2 442.62 L386.2 442.62 L383.2 442.61 L380.2 442.61 L377.2 442.61 L374.2 442.6 L371.2 442.6 L368.2 442.6 L365.2 442.6 Z"/><clipPath id="dcB"><use href="#dB"/></clipPath><clipPath id="dcP"><use href="#dP"/></clipPath></defs><use href="#dP" fill="#E4CDE8"/><use href="#dB" fill="#B8A6D8"/><g clip-path="url(#dcP)"><use href="#dB" fill="#CDCDEB"/></g><use href="#dG" fill="#A2BCBC"/><g clip-path="url(#dcB)"><use href="#dG" fill="#B8BDB6"/></g><g clip-path="url(#dcB)"><g clip-path="url(#dcP)"><use href="#dG" fill="#CDE4CB"/></g></g><path d="M393.2 441.72 L394.2 441.66 L395.2 441.6 L396.2 441.53 L397.2 441.47 L398.2 441.4 L399.2 441.32 L400.2 441.24 L401.2 441.16 L402.2 441.08 L403.2 440.99 L404.2 440.89 L405.2 440.8 L406.2 440.69 L407.2 440.59 L408.2 440.48 L409.2 440.36 L410.2 440.24 L411.2 440.12 L412.2 439.99 L413.2 439.85 L414.2 439.71 L415.2 439.57 L416.2 439.42 L417.2 439.27 L418.2 439.11 L419.2 438.94 L420.2 438.77 L421.2 438.6 L422.2 438.42 L423.2 438.23 L424.2 438.04 L425.2 437.85 L426.2 437.65 L427.2 437.44 L428.2 437.24 L429.2 437.02 L430.2 436.8 L431.2 436.58 L432.2 436.35 L433.2 436.12 L434.2 435.89 L435.2 435.65 L436.2 435.41 L437.2 435.16 L438.2 434.92 L439.2 434.67 L440.2 434.41 L441.2 434.16 L442.2 433.91 L443.2 433.65 L444.2 433.4 L445.2 433.14 L446.2 432.89 L447.2 432.63 L448.2 432.38 L449.2 432.13 L450.2 431.88 L451.2 431.64 L452.2 431.39 L453.2 431.15 L454.2 430.91 L455.2 430.68 L456.2 430.45 L457.2 430.23 L458.2 430.01 L459.2 429.79 L460.2 429.58 L461.2 429.38 L462.2 429.19 L463.2 429 L464.2 428.81 L465.2 428.64 L466.2 428.47 L467.2 428.32 L468.2 428.17 L469.2 428.03 L470.2 427.89 L471.2 427.77 L472.2 427.67 L473.2 427.57 L474.2 427.49 L475.2 427.42 L476.2 427.36 L477.2 427.32 L478.2 427.28 L479.2 427.27 L480.2 427.26 L481.2 427.27 L482.2 427.3 L483.2 427.33 L484.2 427.39 L485.2 427.45 L486.2 427.53 L487.2 427.62 L488.2 427.73 L489.2 427.85 L490.2 427.98 L491.2 428.14 L492.2 428.31 L493.2 428.5 L494.2 428.72 L495.2 428.95 L496.2 429.19 L497.2 429.46 L498.2 429.74 L499.2 430.03 L500.2 430.33 L501.2 430.65 L502.2 430.98 L503.2 431.32 L504.2 431.67 L505.2 432.02 L506.2 432.38 L507.2 432.75 L508.2 433.12 L509.2 433.5 L510.2 433.87 L511.2 434.25 L512.2 434.64 L513.2 435.04 L514.2 435.44 L515.2 435.85 L516.2 436.26 L517.2 436.68 L518.2 437.1 L519.2 437.52 L520.2 437.94 L521.2 438.36 L522.2 438.79 L523.2 439.21 L524.2 439.63 L525.2 440.05 L526.2 440.47 L527.2 440.89 L528.2 441.3 L529.2 441.7 L530.2 442.11 L531.2 442.5 L532.2 442.9 L533.2 443.29 L534.2 443.68 L535.2 444.07 L536.2 444.45 L537.2 444.83 L538.2 445.21 L539.2 445.58 L540.2 445.94 L541.2 446.3 L542.2 446.65 L543.2 446.99 L544.2 447.32 L545.2 447.65 L546.2 447.96 L547.2 448.27 L548.2 448.57 L549.2 448.85 L550.2 449.13 L551.2 449.39 L552.2 449.65 L553.2 449.9 L554.2 450.14 L555.2 450.38 L556.2 450.62 L557.2 450.84 L558.2 451.06 L559.2 451.28 L560.2 451.48 L561.2 451.68 L562.2 451.87 L563.2 452.05 L564.2 452.23 L565.2 452.4 L566.2 452.55 L567.2 452.7 L568.2 452.85 L569.2 452.98 L570.2 453.1 L571.2 453.22 L572.2 453.32 L573.2 453.42 L574.2 453.51 L575.2 453.6 L576.2 453.69" fill="none" stroke="#67A46C" stroke-width="1.4"/><path d="M458.2 442.17 L459.2 442.18 L460.2 442.18 L461.2 442.18 L462.2 442.18 L463.2 442.18 L464.2 442.18 L465.2 442.18 L466.2 442.18 L467.2 442.18 L468.2 442.18 L469.2 442.18 L470.2 442.18 L471.2 442.18 L472.2 442.17 L473.2 442.17 L474.2 442.17 L475.2 442.18 L476.2 442.18 L477.2 442.18 L478.2 442.18 L479.2 442.19 L480.2 442.19 L481.2 442.19 L482.2 442.2 L483.2 442.2 L484.2 442.2 L485.2 442.2 L486.2 442.2 L487.2 442.19 L488.2 442.18 L489.2 442.17 L490.2 442.15 L491.2 442.14 L492.2 442.12 L493.2 442.1 L494.2 442.07 L495.2 442.04 L496.2 441.99 L497.2 441.93 L498.2 441.84 L499.2 441.73 L500.2 441.58 L501.2 441.39 L502.2 441.15 L503.2 440.85 L504.2 440.47 L505.2 440.01 L506.2 439.45 L507.2 438.78 L508.2 437.98 L509.2 437.03 L510.2 435.92 L511.2 434.64 L512.2 433.16 L513.2 431.46 L514.2 429.55 L515.2 427.39 L516.2 424.97 L517.2 422.29 L518.2 419.33 L519.2 416.09 L520.2 412.57 L521.2 408.78 L522.2 404.73 L523.2 400.43 L524.2 395.91 L525.2 391.21 L526.2 386.35 L527.2 381.39 L528.2 376.37 L529.2 371.36 L530.2 366.43 L531.2 361.64 L532.2 357.08 L533.2 352.83 L534.2 348.99 L535.2 345.63 L536.2 342.83 L537.2 340.67 L538.2 339.22 L539.2 338.51 L540.2 338.57 L541.2 339.41 L542.2 340.99 L543.2 343.29 L544.2 346.23 L545.2 349.76 L546.2 353.78 L547.2 358.21 L548.2 362.97 L549.2 367.96 L550.2 373.12 L551.2 378.36 L552.2 383.62 L553.2 388.84 L554.2 393.97 L555.2 398.95 L556.2 403.76 L557.2 408.34 L558.2 412.69 L559.2 416.78 L560.2 420.59 L561.2 424.12 L562.2 427.37 L563.2 430.33 L564.2 433.03 L565.2 435.46 L566.2 437.64 L567.2 439.58 L568.2 441.3 L569.2 442.82 L570.2 444.15 L571.2 445.31 L572.2 446.32 L573.2 447.2 L574.2 447.96 L575.2 448.62 L576.2 449.19 L577.2 449.69 L578.2 450.12 L579.2 450.49 L580.2 450.82 L581.2 451.1 L582.2 451.35 L583.2 451.58 L584.2 451.77 L585.2 451.95 L586.2 452.11 L587.2 452.25 L588.2 452.39 L589.2 452.51 L590.2 452.62 L591.2 452.72 L592.2 452.82 L593.2 452.9 L594.2 452.99 L595.2 453.07 L596.2 453.14 L597.2 453.21 L598.2 453.27 L599.2 453.33 L600.2 453.39 L601.2 453.45 L602.2 453.5 L603.2 453.55 L604.2 453.6 L605.2 453.64 L606.2 453.69 L607.2 453.73 L608.2 453.77 L609.2 453.81 L610.2 453.85 L611.2 453.88 L612.2 453.92 L613.2 453.95 L614.2 453.98 L615.2 454.02 L616.2 454.05 L617.2 454.07 L618.2 454.1 L619.2 454.13 L620.2 454.15 L621.2 454.18" fill="none" stroke="#B683C8" stroke-width="1.4"/><path d="M365.2 443.5 L368.2 443.5 L371.2 443.5 L374.2 443.5 L377.2 443.51 L380.2 443.51 L383.2 443.51 L386.2 443.52 L389.2 443.52 L392.2 443.53 L395.2 443.53 L398.2 443.54 L401.2 443.55 L404.2 443.56 L407.2 443.56 L410.2 443.57 L413.2 443.58 L416.2 443.59 L419.2 443.61 L422.2 443.62 L425.2 443.63 L428.2 443.64 L431.2 443.66 L434.2 443.67 L437.2 443.69 L440.2 443.7 L443.2 443.72 L446.2 443.76 L449.2 443.8 L452.2 443.85 L455.2 443.91 L458.2 443.98 L461.2 444.05 L464.2 444.13 L467.2 444.22 L470.2 444.31 L473.2 444.41 L476.2 444.54 L479.2 444.69 L482.2 444.86 L485.2 445.05 L488.2 445.26 L491.2 445.5 L494.2 445.81 L497.2 446.19 L500.2 446.62 L503.2 447.07 L506.2 447.53 L509.2 447.98 L512.2 448.42 L515.2 448.88 L518.2 449.34 L521.2 449.82 L524.2 450.29 L527.2 450.75 L530.2 451.19 L533.2 451.61 L536.2 452.04 L539.2 452.47 L542.2 452.88 L545.2 453.27 L548.2 453.62 L551.2 453.92 L554.2 454.19 L557.2 454.46 L560.2 454.71 L563.2 454.94 L566.2 455.14 L569.2 455.3 L572.2 455.41 L575.2 455.49 L578.2 455.57 L581.2 455.64 L584.2 455.7 L587.2 455.75 L590.2 455.8 L593.2 455.84 L596.2 455.87 L599.2 455.9 L602.2 455.91 L605.2 455.93 L608.2 455.94 L611.2 455.95 L614.2 455.97 L617.2 455.98 L620.2 455.98 L623.2 455.99 L626.2 456 L629.2 456 L630.8 456" fill="none" stroke="#A6C8E6" stroke-width="2"/><path d="M365.2 442.22 L366.2 442.21 L367.2 442.21 L368.2 442.2 L369.2 442.19 L370.2 442.19 L371.2 442.18 L372.2 442.18 L373.2 442.17 L374.2 442.17 L375.2 442.16 L376.2 442.16 L377.2 442.15 L378.2 442.15 L379.2 442.14 L380.2 442.13 L381.2 442.13 L382.2 442.12 L383.2 442.12 L384.2 442.11 L385.2 442.1 L386.2 442.1 L387.2 442.09 L388.2 442.08 L389.2 442.08 L390.2 442.07 L391.2 442.06 L392.2 442.05 L393.2 442.05 L394.2 442.04 L395.2 442.03 L396.2 442.02 L397.2 442.02 L398.2 442.01 L399.2 442 L400.2 441.99 L401.2 441.98 L402.2 441.97 L403.2 441.96 L404.2 441.95 L405.2 441.94 L406.2 441.93 L407.2 441.92 L408.2 441.91 L409.2 441.9 L410.2 441.89 L411.2 441.88 L412.2 441.87 L413.2 441.85 L414.2 441.84 L415.2 441.83 L416.2 441.81 L417.2 441.8 L418.2 441.78 L419.2 441.77 L420.2 441.75 L421.2 441.73 L422.2 441.72 L423.2 441.7 L424.2 441.68 L425.2 441.66 L426.2 441.63 L427.2 441.61 L428.2 441.59 L429.2 441.56 L430.2 441.53 L431.2 441.5 L432.2 441.47 L433.2 441.44 L434.2 441.4 L435.2 441.36 L436.2 441.31 L437.2 441.27 L438.2 441.21 L439.2 441.16 L440.2 441.1 L441.2 441.03 L442.2 440.95 L443.2 440.87 L444.2 440.78 L445.2 440.69 L446.2 440.58 L447.2 440.46 L448.2 440.33 L449.2 440.19 L450.2 440.03 L451.2 439.85 L452.2 439.66 L453.2 439.44 L454.2 439.2 L455.2 438.93 L456.2 438.64 L457.2 438.31 L458.2 437.95 L459.2 437.56 L460.2 437.13 L461.2 436.66 L462.2 436.14 L463.2 435.57 L464.2 434.96 L465.2 434.29 L466.2 433.56 L467.2 432.78 L468.2 431.93 L469.2 431.02 L470.2 430.04 L471.2 429 L472.2 427.88 L473.2 426.7 L474.2 425.44 L475.2 424.11 L476.2 422.71 L477.2 421.24 L478.2 419.69 L479.2 418.08 L480.2 416.39 L481.2 414.63 L482.2 412.82 L483.2 410.94 L484.2 409 L485.2 407.02 L486.2 404.99 L487.2 402.92 L488.2 400.82 L489.2 398.7 L490.2 396.56 L491.2 394.43 L492.2 392.3 L493.2 390.2 L494.2 388.14 L495.2 386.11 L496.2 384.14 L497.2 382.24 L498.2 380.41 L499.2 378.68 L500.2 377.05 L501.2 375.54 L502.2 374.16 L503.2 372.92 L504.2 371.82 L505.2 370.89 L506.2 370.13 L507.2 369.55 L508.2 369.16 L509.2 368.95 L510.2 368.94 L511.2 369.12 L512.2 369.51 L513.2 370.09 L514.2 370.86 L515.2 371.82 L516.2 372.96 L517.2 374.27 L518.2 375.73 L519.2 377.34 L520.2 379.09 L521.2 380.95 L522.2 382.93 L523.2 384.99 L524.2 387.14 L525.2 389.36 L526.2 391.63 L527.2 393.94 L528.2 396.28 L529.2 398.64 L530.2 401 L531.2 403.36 L532.2 405.71 L533.2 408.04 L534.2 410.35 L535.2 412.62 L536.2 414.84 L537.2 417.01 L538.2 419.13 L539.2 421.19 L540.2 423.18 L541.2 425.1 L542.2 426.95 L543.2 428.72 L544.2 430.42 L545.2 432.03 L546.2 433.57 L547.2 435.03 L548.2 436.4 L549.2 437.7 L550.2 438.92 L551.2 440.07 L552.2 441.14 L553.2 442.15 L554.2 443.09 L555.2 443.97 L556.2 444.79 L557.2 445.55 L558.2 446.26 L559.2 446.91 L560.2 447.52 L561.2 448.08 L562.2 448.6 L563.2 449.07 L564.2 449.51 L565.2 449.91 L566.2 450.28 L567.2 450.61 L568.2 450.91 L569.2 451.19 L570.2 451.44 L571.2 451.66 L572.2 451.86 L573.2 452.04 L574.2 452.21 L575.2 452.36 L576.2 452.51 L577.2 452.63 L578.2 452.75 L579.2 452.86 L580.2 452.97 L581.2 453.06 L582.2 453.15 L583.2 453.23 L584.2 453.3 L585.2 453.37 L586.2 453.44 L587.2 453.5 L588.2 453.56 L589.2 453.61 L590.2 453.66 L591.2 453.71 L592.2 453.75 L593.2 453.8 L594.2 453.84 L595.2 453.87 L596.2 453.91 L597.2 453.94 L598.2 453.97 L599.2 454 L600.2 454.03 L601.2 454.06 L602.2 454.08 L603.2 454.11 L604.2 454.13 L605.2 454.15 L606.2 454.17 L607.2 454.2 L608.2 454.22 L609.2 454.24 L610.2 454.26 L611.2 454.28 L612.2 454.29 L613.2 454.31 L614.2 454.33 L615.2 454.35 L616.2 454.36 L617.2 454.38 L618.2 454.39 L619.2 454.41 L620.2 454.42 L621.2 454.44 L622.2 454.45 L623.2 454.46 L624.2 454.48 L625.2 454.49 L626.2 454.5 L627.2 454.51 L628.2 454.52 L629.2 454.53 L630.2 454.54 L630.8 454.55" fill="none" stroke="#6660BE" stroke-width="1.4"/><path d="M365.3 443.71 L367.5 444.16 L369.7 445.63 L371.9 443.81 L374.1 447.47 L376.3 444.01 L378.5 444.34 L380.7 442.75 L382.9 445.25 L385.1 444.15 L387.3 444.66 L389.5 445.32 L391.7 446.75 L393.9 435.73 L396.1 438.34 L398.3 438.99 L400.5 435.98 L402.7 436.44 L404.9 437.23 L407.1 440.53 L409.3 434.79 L411.5 440.33 L413.7 436.25 L415.9 438.94 L418.1 434.44 L420.3 437.06 L422.5 431.83 L424.7 434.59 L426.9 431.84 L429.1 431.54 L431.3 429.46 L433.5 433.37 L435.7 428.58 L437.9 430.43 L440.1 426.72 L442.3 431.09 L444.5 426.33 L446.7 426.7 L448.9 425.95 L451.1 428.44 L453.3 423.8 L455.5 426.87 L457.7 421.5 L459.9 424.35 L462.1 418.26 L464.3 419.98 L466.5 415.18 L468.7 416.17 L470.9 409.42 L473.1 410 L475.3 402.12 L477.5 398.68 L479.7 395.15 L481.9 395.82 L484.1 387.29 L486.3 384.08 L488.5 379.78 L490.7 376.81 L492.9 368.18 L495.1 365.84 L497.3 358.46 L499.5 358.2 L501.7 349.22 L503.9 350.88 L506.1 345.48 L508.3 345.54 L510.5 339.73 L512.7 339.27 L514.9 330.9 L517.1 332.22 L519.3 324.63 L521.5 323.6 L523.7 314.95 L525.9 311.86 L528.1 306.77 L530.3 306.19 L532.5 301.8 L534.7 291.29 L536.9 304.3 L539.1 294.35 L541.3 302.61 L543.5 309.08 L545.7 321.06 L547.9 332.22 L550.1 343.87 L552.3 357.32 L554.5 371.48 L556.7 386.21 L558.9 397.62 L561.1 407.5 L563.3 418.97 L565.5 423.42 L567.7 431.65 L569.9 437.84 L572.1 439.74 L574.3 443.53 L576.5 445.44 L578.7 446.81 L580.9 450.1 L583.1 445.84 L585.3 451.1 L587.5 450.13 L589.7 452.3 L591.9 449.27 L594.1 450.87 L596.3 451.64 L598.5 453.18 L600.7 452.69 L602.9 450.18 L605.1 451.31 L607.3 454.07 L609.5 451.83 L611.7 452.06 L613.9 451.16 L616.1 453.75 L618.3 452.5 L620.5 452.47 L622.7 451.87 L624.9 451.51 L627.1 452.05 L629.3 453.6" fill="none" stroke="#161616" stroke-width="1.15" stroke-linejoin="round"/><path d="M365 440.9 L367.74 440.92 L371.69 440.95 L376.04 440.98 L380 441 L383.25 441.06 L386.26 441.14 L389.38 441.15 L393 441 L397.39 440.66 L402.29 440.19 L407.27 439.6 L411.9 438.9 L416.03 438.07 L419.91 437.11 L423.68 436.07 L427.5 435 L431.49 433.86 L435.53 432.66 L439.46 431.44 L443.1 430.3 L446.43 429.28 L449.53 428.34 L452.39 427.38 L455 426.3 L457.28 425.15 L459.25 423.96 L461.1 422.62 L463 421 L464.98 419.07 L466.95 416.89 L468.92 414.51 L470.9 412 L472.9 409.36 L474.9 406.56 L476.9 403.6 L478.9 400.5 L480.96 397.15 L483.06 393.59 L485.06 390 L486.8 386.6 L488.16 383.47 L489.24 380.51 L490.26 377.56 L491.4 374.5 L492.73 371.18 L494.13 367.7 L495.57 364.32 L497 361.3 L498.43 358.73 L499.87 356.46 L501.3 354.39 L502.7 352.4 L504.04 350.55 L505.34 348.87 L506.64 347.2 L508 345.4 L509.44 343.44 L510.93 341.39 L512.43 339.25 L513.9 337 L515.32 334.62 L516.71 332.12 L518.1 329.57 L519.5 327 L520.99 324.3 L522.53 321.49 L523.98 318.84 L525.2 316.6 L526.09 315.03 L526.74 313.92 L527.33 312.88 L528 311.5 L528.83 309.55 L529.73 307.29 L530.61 305.06 L531.4 303.2 L532.03 301.78 L532.56 300.62 L533.08 299.71 L533.7 299 L534.46 298.55 L535.31 298.34 L536.18 298.29 L537 298.3 L537.77 298.24 L538.51 298.2 L539.23 298.38 L539.9 299 L540.53 300.18 L541.13 301.8 L541.68 303.64 L542.2 305.5 L542.65 307.29 L543.05 309.14 L543.45 311.15 L543.9 313.4 L544.45 316.06 L545.05 319.02 L545.65 322.03 L546.2 324.8 L546.68 327.26 L547.11 329.57 L547.52 331.76 L547.9 333.9 L548.22 335.88 L548.49 337.71 L548.79 339.61 L549.2 341.8 L549.78 344.39 L550.49 347.26 L551.2 350.24 L551.8 353.2 L552.2 355.83 L552.47 358.29 L552.78 361.16 L553.3 365 L554.08 370.19 L555.03 376.35 L556.09 382.91 L557.2 389.3 L558.39 395.64 L559.69 402.14 L560.99 408.38 L562.2 413.9 L563.29 418.58 L564.31 422.66 L565.3 426.26 L566.3 429.5 L567.31 432.32 L568.32 434.68 L569.34 436.75 L570.4 438.7 L571.51 440.52 L572.64 442.14 L573.81 443.61 L575 445 L576.1 446.31 L577.16 447.51 L578.39 448.61 L580 449.6 L582.03 450.48 L584.38 451.26 L587.03 451.93 L590 452.5 L593.14 452.95 L596.5 453.28 L600.36 453.54 L605 453.8 L611.34 454.07 L618.94 454.33 L626.07 454.55 L631 454.7" fill="none" stroke="#D22020" stroke-width="1.7" stroke-linejoin="round"/><rect x="364.5" y="272.6" width="267" height="214.4" fill="none" stroke="#2e2e2e" stroke-width="1.3"/><path d="M391.2 487 V490.8 M444.6 487 V490.8 M498 487 V490.8 M551.4 487 V490.8 M604.8 487 V490.8 M364.5 487 V489.2 M417.9 487 V489.2 M471.3 487 V489.2 M524.7 487 V489.2 M578.1 487 V489.2 M631.5 487 V489.2" stroke="#2e2e2e" stroke-width="1.2" fill="none"/><text x="391.2" y="504.1" font-size="12" text-anchor="middle" font-weight="normal" fill="#111">536</text><text x="444.6" y="504.1" font-size="12" text-anchor="middle" font-weight="normal" fill="#111">534</text><text x="498" y="504.1" font-size="12" text-anchor="middle" font-weight="normal" fill="#111">532</text><text x="551.4" y="504.1" font-size="12" text-anchor="middle" font-weight="normal" fill="#111">530</text><text x="604.8" y="504.1" font-size="12" text-anchor="middle" font-weight="normal" fill="#111">528</text><text x="499" y="520.6" font-size="14.45" text-anchor="middle" font-weight="normal" fill="#111">Binding energy (eV)</text><text transform="translate(351,379) rotate(-90)" font-size="14.45" text-anchor="middle" font-weight="normal" fill="#111">Intensity (a.u.)</text><text x="320.4" y="273.8" font-size="18" text-anchor="start" font-weight="bold" fill="#000">(d)</text><text x="397.3" y="298.5" font-size="14" text-anchor="start" font-weight="normal" fill="#111">Pd-ZnO</text><text x="397.3" y="315.7" font-size="14" text-anchor="start" font-weight="normal" fill="#111">O 1s</text><text x="431.2" y="399.7" font-size="10" fill="#111" stroke="#111" stroke-width="0.25">O<tspan font-size="6.5" dy="2.4">C</tspan></text><text x="417.3" y="414.8" font-size="10" text-anchor="start" font-weight="normal" fill="#111" stroke="#111" stroke-width="0.25">532.5 eV</text><text x="470.7" y="342.5" font-size="10" fill="#111" stroke="#111" stroke-width="0.25">O<tspan font-size="6.5" dy="2.4">V</tspan></text><text x="456.3" y="356.9" font-size="10" text-anchor="start" font-weight="normal" fill="#111" stroke="#111" stroke-width="0.25">531.5 eV</text><text x="570.6" y="314.2" font-size="10" fill="#111" stroke="#111" stroke-width="0.25">O<tspan font-size="6.5" dy="2.4">L</tspan></text><text x="555.8" y="328.9" font-size="10" text-anchor="start" font-weight="normal" fill="#111" stroke="#111" stroke-width="0.25">530.4 eV</text><text x="494" y="403.6" font-size="10" text-anchor="start" font-weight="normal" fill="#111" stroke="#111" stroke-width="0.25">43.9%</text><text x="467.6" y="439.2" font-size="10" text-anchor="start" font-weight="normal" fill="#111" stroke="#111" stroke-width="0.25">16.3%</text><text x="527.5" y="394.9" font-size="10" text-anchor="start" font-weight="normal" fill="#111" stroke="#111" stroke-width="0.25">39.8%</text><path d="M448.8 413.3 L465.83 423.06" stroke="#111" stroke-width="1.2"/><path d="M470.6 425.8 L464.12 424.04 L465.81 421.09 Z" fill="#111"/><path d="M484.4 356.3 L500.36 366.45" stroke="#111" stroke-width="1.2"/><path d="M505 369.4 L498.6 367.35 L500.43 364.48 Z" fill="#111"/><path d="M559.8 330.2 L548.21 339.96" stroke="#111" stroke-width="1.2"/><path d="M544 343.5 L547.88 338.01 L550.07 340.61 Z" fill="#111"/></svg></body></html>
